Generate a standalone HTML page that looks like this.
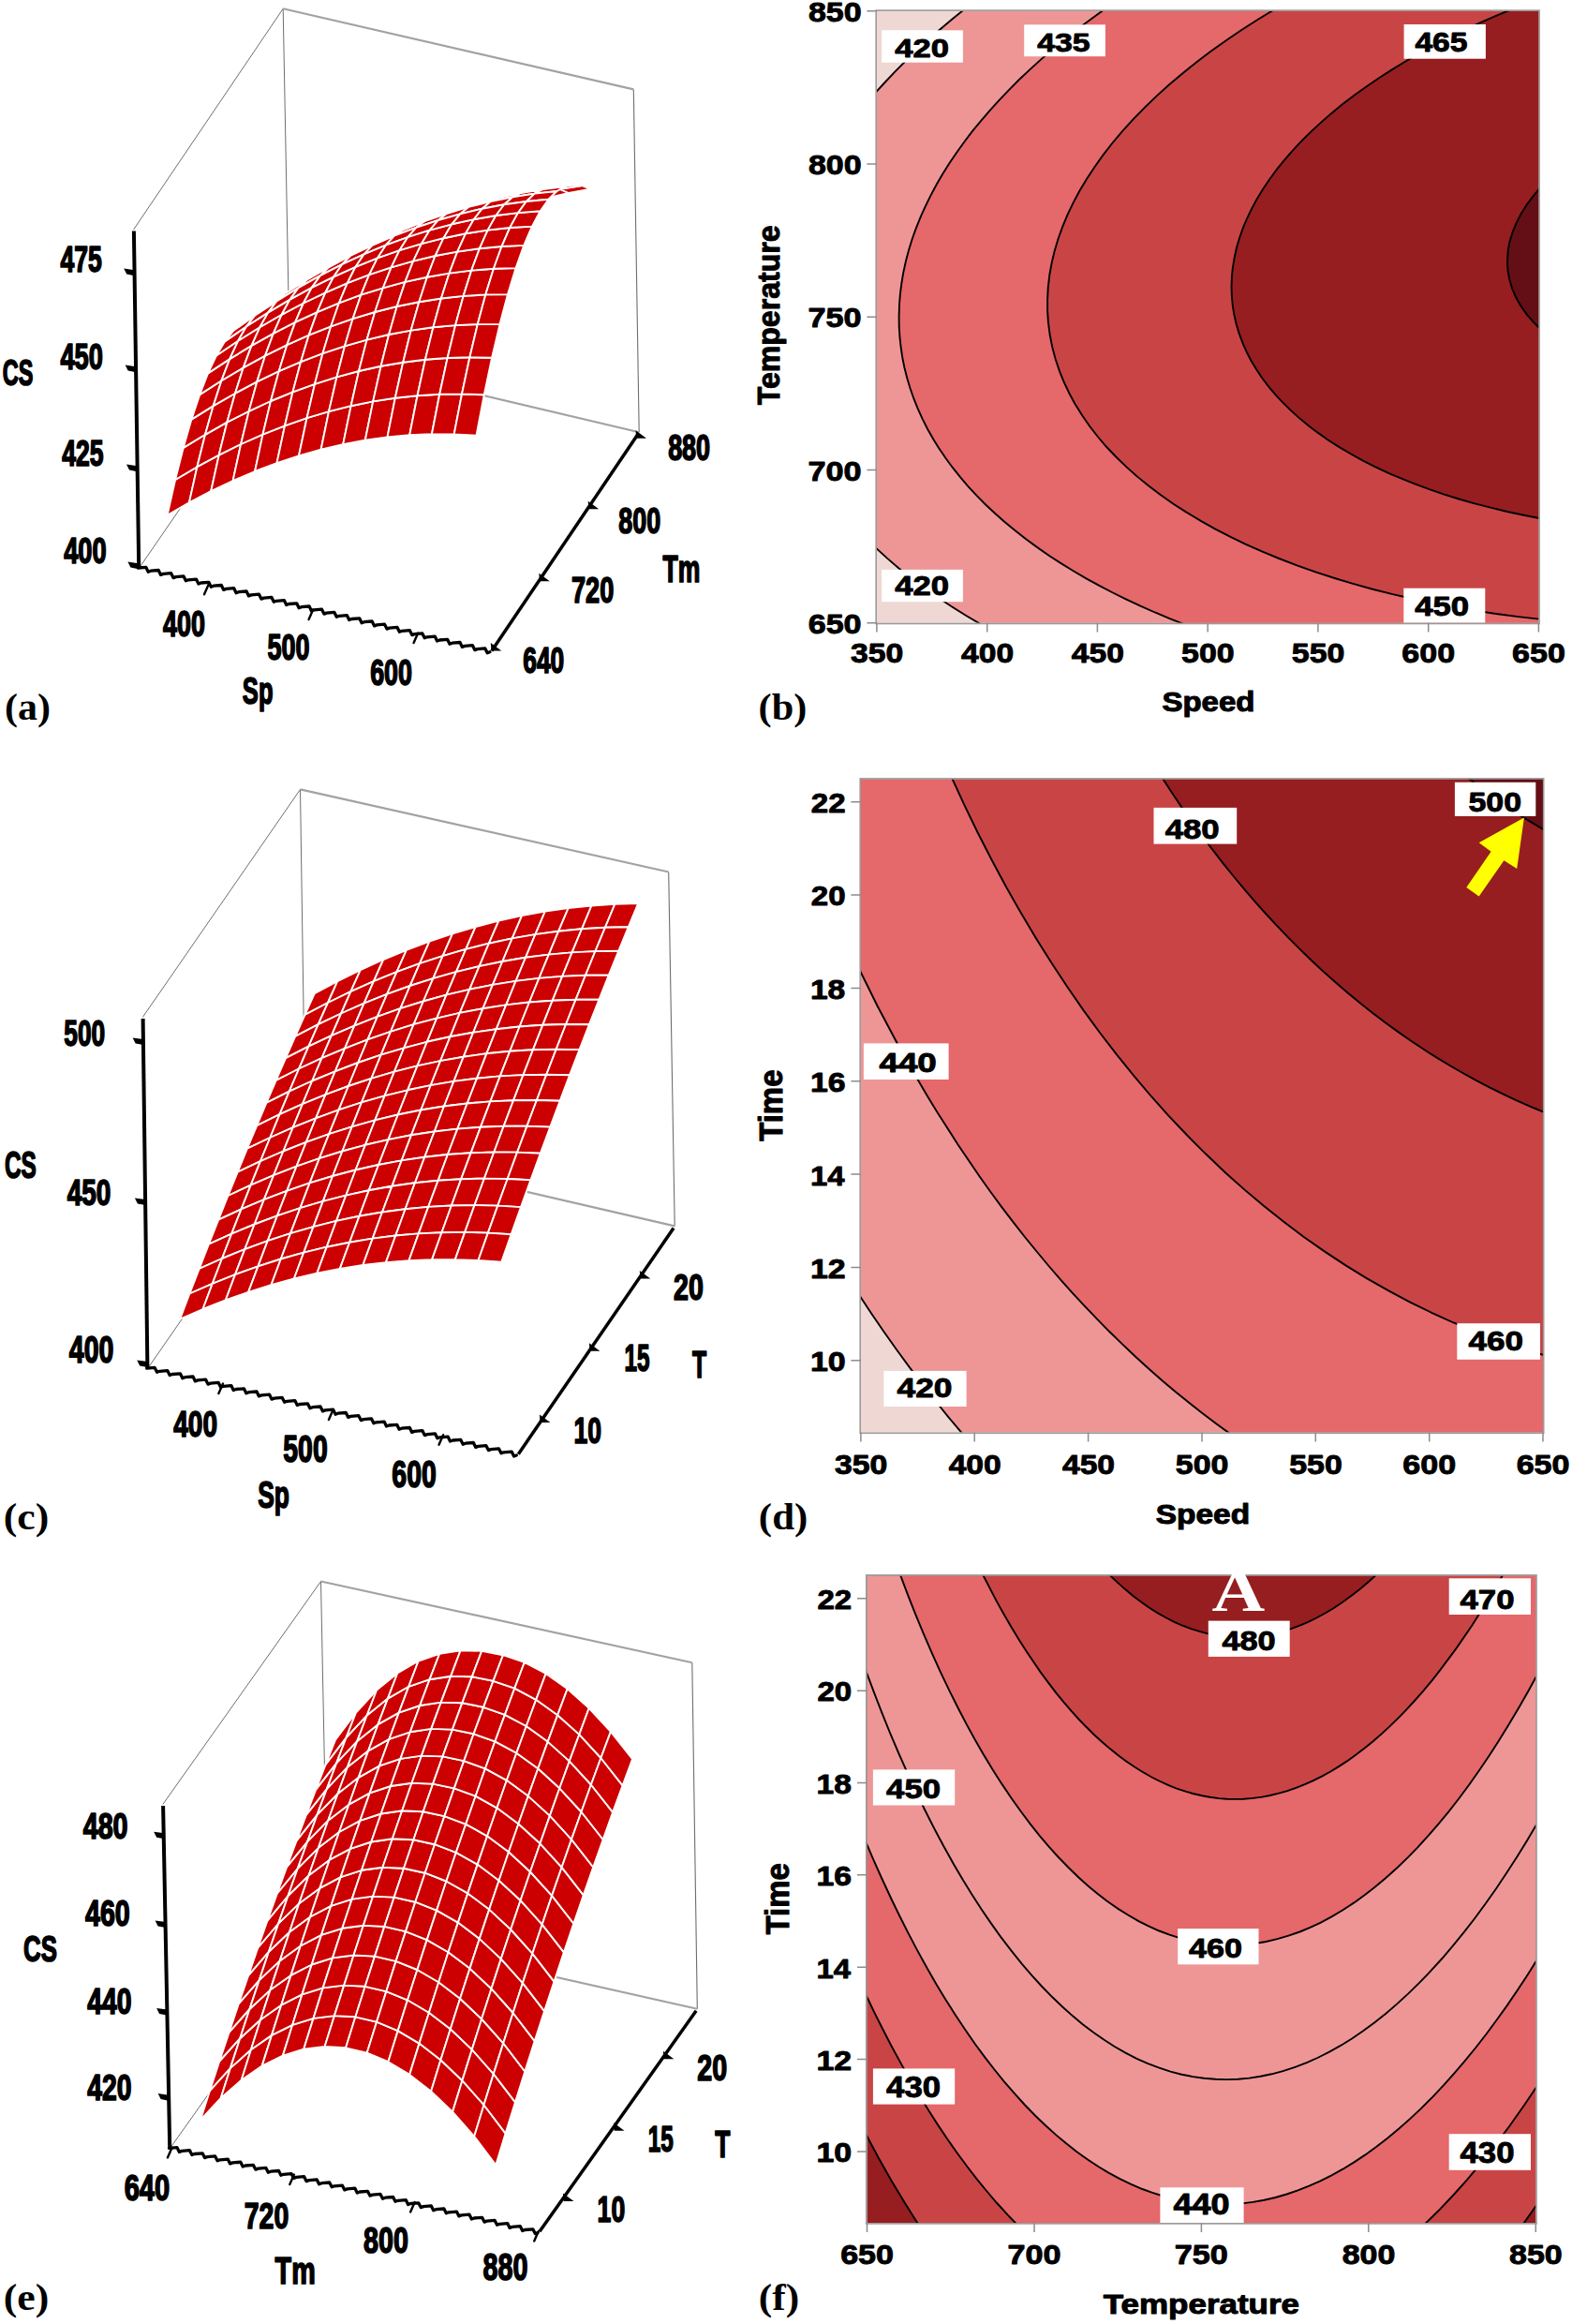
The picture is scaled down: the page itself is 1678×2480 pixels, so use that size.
<!DOCTYPE html>
<html lang="en"><head><meta charset="utf-8"><title>Response surface and contour plots</title>
<style>html,body{margin:0;padding:0;background:#fff}svg{display:block}text{white-space:pre}</style></head>
<body><svg width="1678" height="2480" viewBox="0 0 1678 2480">
<rect width="1678" height="2480" fill="#fff"/>
<g id="pa">
<line x1="149.0" y1="605.5" x2="309.0" y2="373.0" stroke="#6e6e6e" stroke-width="1.0"/>
<line x1="142.6" y1="245.0" x2="302.2" y2="9.2" stroke="#6e6e6e" stroke-width="1.0"/>
<line x1="302.2" y1="9.2" x2="309.0" y2="373.0" stroke="#6e6e6e" stroke-width="1.0"/>
<line x1="676.3" y1="95.4" x2="682.2" y2="461.2" stroke="#6e6e6e" stroke-width="1.1"/>
<line x1="302.2" y1="9.2" x2="676.3" y2="95.4" stroke="#a2a2a2" stroke-width="2.2"/>
<line x1="309.0" y1="373.0" x2="682.2" y2="461.2" stroke="#a2a2a2" stroke-width="2.2"/>
<g fill="#CC0000" stroke="#fff" stroke-width="1.9" stroke-linejoin="round">
<path d="M178.6 549.8L201.9 536.4L210.4 498.2L187.1 512.0Z"/>
<path d="M295.4 352.6L318.4 334.3L327.8 344.4L304.8 363.2Z"/>
<path d="M187.1 512.0L210.4 498.2L219.0 463.8L195.7 477.9Z"/>
<path d="M285.9 345.5L309.0 327.7L318.4 334.3L295.4 352.6Z"/>
<path d="M195.7 477.9L219.0 463.8L227.7 433.1L204.4 447.6Z"/>
<path d="M276.6 341.9L299.7 324.4L309.0 327.7L285.9 345.5Z"/>
<path d="M201.9 536.4L225.2 524.2L233.7 485.6L210.4 498.2Z"/>
<path d="M204.4 447.6L227.7 433.1L236.4 406.2L213.2 421.1Z"/>
<path d="M267.3 341.9L290.4 324.8L299.7 324.4L276.6 341.9Z"/>
<path d="M318.4 334.3L341.4 317.1L350.9 326.7L327.8 344.4Z"/>
<path d="M213.2 421.1L236.4 406.2L245.2 383.1L222.0 398.4Z"/>
<path d="M258.1 345.6L281.2 328.9L290.4 324.8L267.3 341.9Z"/>
<path d="M222.0 398.4L245.2 383.1L254.1 363.8L230.9 379.5Z"/>
<path d="M210.4 498.2L233.7 485.6L242.3 450.7L219.0 463.8Z"/>
<path d="M249.0 353.1L272.1 336.7L281.2 328.9L258.1 345.6Z"/>
<path d="M230.9 379.5L254.1 363.8L263.1 348.3L239.9 364.4Z"/>
<path d="M239.9 364.4L263.1 348.3L272.1 336.7L249.0 353.1Z"/>
<path d="M309.0 327.7L332.1 310.9L341.4 317.1L318.4 334.3Z"/>
<path d="M219.0 463.8L242.3 450.7L251.0 419.7L227.7 433.1Z"/>
<path d="M299.7 324.4L322.8 308.1L332.1 310.9L309.0 327.7Z"/>
<path d="M225.2 524.2L248.6 513.0L257.1 474.0L233.7 485.6Z"/>
<path d="M227.7 433.1L251.0 419.7L259.7 392.4L236.4 406.2Z"/>
<path d="M290.4 324.8L313.5 308.8L322.8 308.1L299.7 324.4Z"/>
<path d="M236.4 406.2L259.7 392.4L268.5 368.9L245.2 383.1Z"/>
<path d="M341.4 317.1L364.5 301.1L374.0 310.1L350.9 326.7Z"/>
<path d="M281.2 328.9L304.4 313.2L313.5 308.8L290.4 324.8Z"/>
<path d="M233.7 485.6L257.1 474.0L265.7 438.8L242.3 450.7Z"/>
<path d="M245.2 383.1L268.5 368.9L277.3 349.3L254.1 363.8Z"/>
<path d="M272.1 336.7L295.3 321.4L304.4 313.2L281.2 328.9Z"/>
<path d="M254.1 363.8L277.3 349.3L286.3 333.4L263.1 348.3Z"/>
<path d="M263.1 348.3L286.3 333.4L295.3 321.4L272.1 336.7Z"/>
<path d="M332.1 310.9L355.2 295.3L364.5 301.1L341.4 317.1Z"/>
<path d="M242.3 450.7L265.7 438.8L274.3 407.4L251.0 419.7Z"/>
<path d="M248.6 513.0L272.1 503.0L280.5 463.6L257.1 474.0Z"/>
<path d="M322.8 308.1L345.9 292.8L355.2 295.3L332.1 310.9Z"/>
<path d="M251.0 419.7L274.3 407.4L283.0 379.7L259.7 392.4Z"/>
<path d="M313.5 308.8L336.7 293.9L345.9 292.8L322.8 308.1Z"/>
<path d="M259.7 392.4L283.0 379.7L291.8 355.9L268.5 368.9Z"/>
<path d="M364.5 301.1L387.7 286.1L397.1 294.7L374.0 310.1Z"/>
<path d="M257.1 474.0L280.5 463.6L289.0 428.0L265.7 438.8Z"/>
<path d="M304.4 313.2L327.6 298.7L336.7 293.9L313.5 308.8Z"/>
<path d="M268.5 368.9L291.8 355.9L300.6 335.8L277.3 349.3Z"/>
<path d="M295.3 321.4L318.5 307.2L327.6 298.7L304.4 313.2Z"/>
<path d="M277.3 349.3L300.6 335.8L309.5 319.6L286.3 333.4Z"/>
<path d="M286.3 333.4L309.5 319.6L318.5 307.2L295.3 321.4Z"/>
<path d="M355.2 295.3L378.4 280.7L387.7 286.1L364.5 301.1Z"/>
<path d="M265.7 438.8L289.0 428.0L297.7 396.2L274.3 407.4Z"/>
<path d="M272.1 503.0L295.5 494.1L304.0 454.3L280.5 463.6Z"/>
<path d="M345.9 292.8L369.1 278.7L378.4 280.7L355.2 295.3Z"/>
<path d="M274.3 407.4L297.7 396.2L306.3 368.1L283.0 379.7Z"/>
<path d="M336.7 293.9L359.9 280.1L369.1 278.7L345.9 292.8Z"/>
<path d="M283.0 379.7L306.3 368.1L315.1 343.9L291.8 355.9Z"/>
<path d="M280.5 463.6L304.0 454.3L312.5 418.3L289.0 428.0Z"/>
<path d="M387.7 286.1L410.9 272.2L420.2 280.3L397.1 294.7Z"/>
<path d="M327.6 298.7L350.8 285.3L359.9 280.1L336.7 293.9Z"/>
<path d="M291.8 355.9L315.1 343.9L323.9 323.5L300.6 335.8Z"/>
<path d="M318.5 307.2L341.8 294.2L350.8 285.3L327.6 298.7Z"/>
<path d="M300.6 335.8L323.9 323.5L332.8 306.9L309.5 319.6Z"/>
<path d="M309.5 319.6L332.8 306.9L341.8 294.2L318.5 307.2Z"/>
<path d="M289.0 428.0L312.5 418.3L321.1 386.1L297.7 396.2Z"/>
<path d="M378.4 280.7L401.6 267.3L410.9 272.2L387.7 286.1Z"/>
<path d="M295.5 494.1L319.0 486.3L327.5 446.2L304.0 454.3Z"/>
<path d="M297.7 396.2L321.1 386.1L329.7 357.6L306.3 368.1Z"/>
<path d="M369.1 278.7L392.4 265.7L401.6 267.3L378.4 280.7Z"/>
<path d="M304.0 454.3L327.5 446.2L336.0 409.8L312.5 418.3Z"/>
<path d="M306.3 368.1L329.7 357.6L338.5 333.1L315.1 343.9Z"/>
<path d="M359.9 280.1L383.2 267.4L392.4 265.7L369.1 278.7Z"/>
<path d="M410.9 272.2L434.1 259.5L443.4 267.1L420.2 280.3Z"/>
<path d="M315.1 343.9L338.5 333.1L347.3 312.3L323.9 323.5Z"/>
<path d="M350.8 285.3L374.1 273.0L383.2 267.4L359.9 280.1Z"/>
<path d="M323.9 323.5L347.3 312.3L356.2 295.3L332.8 306.9Z"/>
<path d="M341.8 294.2L365.1 282.2L374.1 273.0L350.8 285.3Z"/>
<path d="M332.8 306.9L356.2 295.3L365.1 282.2L341.8 294.2Z"/>
<path d="M312.5 418.3L336.0 409.8L344.5 377.1L321.1 386.1Z"/>
<path d="M319.0 486.3L342.6 479.7L351.0 439.1L327.5 446.2Z"/>
<path d="M401.6 267.3L424.8 255.0L434.1 259.5L410.9 272.2Z"/>
<path d="M321.1 386.1L344.5 377.1L353.2 348.3L329.7 357.6Z"/>
<path d="M392.4 265.7L415.6 253.8L424.8 255.0L401.6 267.3Z"/>
<path d="M327.5 446.2L351.0 439.1L359.5 402.3L336.0 409.8Z"/>
<path d="M329.7 357.6L353.2 348.3L361.9 323.3L338.5 333.1Z"/>
<path d="M383.2 267.4L406.5 255.9L415.6 253.8L392.4 265.7Z"/>
<path d="M338.5 333.1L361.9 323.3L370.7 302.2L347.3 312.3Z"/>
<path d="M434.1 259.5L457.4 247.9L466.7 255.0L443.4 267.1Z"/>
<path d="M374.1 273.0L397.4 261.8L406.5 255.9L383.2 267.4Z"/>
<path d="M347.3 312.3L370.7 302.2L379.5 284.8L356.2 295.3Z"/>
<path d="M365.1 282.2L388.5 271.4L397.4 261.8L374.1 273.0Z"/>
<path d="M356.2 295.3L379.5 284.8L388.5 271.4L365.1 282.2Z"/>
<path d="M336.0 409.8L359.5 402.3L368.0 369.3L344.5 377.1Z"/>
<path d="M342.6 479.7L366.2 474.1L374.6 433.2L351.0 439.1Z"/>
<path d="M424.8 255.0L448.1 243.9L457.4 247.9L434.1 259.5Z"/>
<path d="M344.5 377.1L368.0 369.3L376.6 340.1L353.2 348.3Z"/>
<path d="M415.6 253.8L439.0 243.0L448.1 243.9L424.8 255.0Z"/>
<path d="M351.0 439.1L374.6 433.2L383.0 396.0L359.5 402.3Z"/>
<path d="M353.2 348.3L376.6 340.1L385.3 314.7L361.9 323.3Z"/>
<path d="M406.5 255.9L429.9 245.5L439.0 243.0L415.6 253.8Z"/>
<path d="M361.9 323.3L385.3 314.7L394.1 293.2L370.7 302.2Z"/>
<path d="M457.4 247.9L480.7 237.4L490.0 244.0L466.7 255.0Z"/>
<path d="M397.4 261.8L420.8 251.7L429.9 245.5L406.5 255.9Z"/>
<path d="M370.7 302.2L394.1 293.2L402.9 275.4L379.5 284.8Z"/>
<path d="M366.2 474.1L389.8 469.7L398.2 428.4L374.6 433.2Z"/>
<path d="M359.5 402.3L383.0 396.0L391.6 362.6L368.0 369.3Z"/>
<path d="M388.5 271.4L411.8 261.7L420.8 251.7L397.4 261.8Z"/>
<path d="M379.5 284.8L402.9 275.4L411.8 261.7L388.5 271.4Z"/>
<path d="M448.1 243.9L471.5 233.8L480.7 237.4L457.4 247.9Z"/>
<path d="M368.0 369.3L391.6 362.6L400.2 333.0L376.6 340.1Z"/>
<path d="M374.6 433.2L398.2 428.4L406.6 390.8L383.0 396.0Z"/>
<path d="M439.0 243.0L462.3 233.3L471.5 233.8L448.1 243.9Z"/>
<path d="M376.6 340.1L400.2 333.0L408.8 307.3L385.3 314.7Z"/>
<path d="M429.9 245.5L453.2 236.2L462.3 233.3L439.0 243.0Z"/>
<path d="M385.3 314.7L408.8 307.3L417.6 285.3L394.1 293.2Z"/>
<path d="M389.8 469.7L413.5 466.4L421.8 424.7L398.2 428.4Z"/>
<path d="M480.7 237.4L504.0 228.1L513.3 234.2L490.0 244.0Z"/>
<path d="M383.0 396.0L406.6 390.8L415.1 357.0L391.6 362.6Z"/>
<path d="M420.8 251.7L444.2 242.8L453.2 236.2L429.9 245.5Z"/>
<path d="M394.1 293.2L417.6 285.3L426.4 267.2L402.9 275.4Z"/>
<path d="M411.8 261.7L435.3 253.1L444.2 242.8L420.8 251.7Z"/>
<path d="M402.9 275.4L426.4 267.2L435.3 253.1L411.8 261.7Z"/>
<path d="M471.5 233.8L494.9 224.9L504.0 228.1L480.7 237.4Z"/>
<path d="M391.6 362.6L415.1 357.0L423.7 327.0L400.2 333.0Z"/>
<path d="M398.2 428.4L421.8 424.7L430.2 386.8L406.6 390.8Z"/>
<path d="M462.3 233.3L485.7 224.8L494.9 224.9L471.5 233.8Z"/>
<path d="M400.2 333.0L423.7 327.0L432.4 300.9L408.8 307.3Z"/>
<path d="M413.5 466.4L437.2 464.3L445.5 422.2L421.8 424.7Z"/>
<path d="M453.2 236.2L476.7 228.0L485.7 224.8L462.3 233.3Z"/>
<path d="M408.8 307.3L432.4 300.9L441.1 278.6L417.6 285.3Z"/>
<path d="M406.6 390.8L430.2 386.8L438.7 352.6L415.1 357.0Z"/>
<path d="M504.0 228.1L527.4 219.8L536.7 225.5L513.3 234.2Z"/>
<path d="M444.2 242.8L467.7 235.0L476.7 228.0L453.2 236.2Z"/>
<path d="M417.6 285.3L441.1 278.6L449.9 260.1L426.4 267.2Z"/>
<path d="M435.3 253.1L458.7 245.6L467.7 235.0L444.2 242.8Z"/>
<path d="M426.4 267.2L449.9 260.1L458.7 245.6L435.3 253.1Z"/>
<path d="M415.1 357.0L438.7 352.6L447.3 322.2L423.7 327.0Z"/>
<path d="M494.9 224.9L518.3 217.1L527.4 219.8L504.0 228.1Z"/>
<path d="M421.8 424.7L445.5 422.2L453.9 383.8L430.2 386.8Z"/>
<path d="M423.7 327.0L447.3 322.2L455.9 295.7L432.4 300.9Z"/>
<path d="M485.7 224.8L509.2 217.4L518.3 217.1L494.9 224.9Z"/>
<path d="M437.2 464.3L460.9 463.3L469.2 420.7L445.5 422.2Z"/>
<path d="M432.4 300.9L455.9 295.7L464.6 273.0L441.1 278.6Z"/>
<path d="M430.2 386.8L453.9 383.8L462.4 349.3L438.7 352.6Z"/>
<path d="M476.7 228.0L500.1 220.9L509.2 217.4L485.7 224.8Z"/>
<path d="M441.1 278.6L464.6 273.0L473.4 254.2L449.9 260.1Z"/>
<path d="M527.4 219.8L550.9 212.7L560.1 217.8L536.7 225.5Z"/>
<path d="M467.7 235.0L491.2 228.3L500.1 220.9L476.7 228.0Z"/>
<path d="M449.9 260.1L473.4 254.2L482.2 239.3L458.7 245.6Z"/>
<path d="M458.7 245.6L482.2 239.3L491.2 228.3L467.7 235.0Z"/>
<path d="M438.7 352.6L462.4 349.3L470.9 318.5L447.3 322.2Z"/>
<path d="M445.5 422.2L469.2 420.7L477.6 382.0L453.9 383.8Z"/>
<path d="M518.3 217.1L541.7 210.4L550.9 212.7L527.4 219.8Z"/>
<path d="M447.3 322.2L470.9 318.5L479.5 291.6L455.9 295.7Z"/>
<path d="M460.9 463.3L484.7 463.4L493.0 420.5L469.2 420.7Z"/>
<path d="M509.2 217.4L532.6 211.1L541.7 210.4L518.3 217.1Z"/>
<path d="M453.9 383.8L477.6 382.0L486.1 347.1L462.4 349.3Z"/>
<path d="M455.9 295.7L479.5 291.6L488.2 268.6L464.6 273.0Z"/>
<path d="M500.1 220.9L523.6 215.0L532.6 211.1L509.2 217.4Z"/>
<path d="M464.6 273.0L488.2 268.6L497.0 249.3L473.4 254.2Z"/>
<path d="M550.9 212.7L574.3 206.7L583.5 211.4L560.1 217.8Z"/>
<path d="M491.2 228.3L514.7 222.7L523.6 215.0L500.1 220.9Z"/>
<path d="M473.4 254.2L497.0 249.3L505.8 234.1L482.2 239.3Z"/>
<path d="M482.2 239.3L505.8 234.1L514.7 222.7L491.2 228.3Z"/>
<path d="M462.4 349.3L486.1 347.1L494.6 315.9L470.9 318.5Z"/>
<path d="M469.2 420.7L493.0 420.5L501.4 381.3L477.6 382.0Z"/>
<path d="M541.7 210.4L565.2 204.9L574.3 206.7L550.9 212.7Z"/>
<path d="M484.7 463.4L508.5 464.6L516.8 421.3L493.0 420.5Z"/>
<path d="M470.9 318.5L494.6 315.9L503.2 288.6L479.5 291.6Z"/>
<path d="M532.6 211.1L556.2 206.0L565.2 204.9L541.7 210.4Z"/>
<path d="M477.6 382.0L501.4 381.3L509.8 346.0L486.1 347.1Z"/>
<path d="M479.5 291.6L503.2 288.6L511.9 265.2L488.2 268.6Z"/>
<path d="M523.6 215.0L547.2 210.2L556.2 206.0L532.6 211.1Z"/>
<path d="M488.2 268.6L511.9 265.2L520.6 245.6L497.0 249.3Z"/>
<path d="M514.7 222.7L538.2 218.3L547.2 210.2L523.6 215.0Z"/>
<path d="M574.3 206.7L597.8 201.9L607.0 206.0L583.5 211.4Z"/>
<path d="M497.0 249.3L520.6 245.6L529.4 230.0L505.8 234.1Z"/>
<path d="M493.0 420.5L516.8 421.3L525.1 381.8L501.4 381.3Z"/>
<path d="M505.8 234.1L529.4 230.0L538.2 218.3L514.7 222.7Z"/>
<path d="M486.1 347.1L509.8 346.0L518.3 314.4L494.6 315.9Z"/>
<path d="M565.2 204.9L588.7 200.4L597.8 201.9L574.3 206.7Z"/>
<path d="M494.6 315.9L518.3 314.4L526.9 286.8L503.2 288.6Z"/>
<path d="M501.4 381.3L525.1 381.8L533.5 346.1L509.8 346.0Z"/>
<path d="M556.2 206.0L579.7 202.0L588.7 200.4L565.2 204.9Z"/>
<path d="M503.2 288.6L526.9 286.8L535.5 263.0L511.9 265.2Z"/>
<path d="M547.2 210.2L570.7 206.6L579.7 202.0L556.2 206.0Z"/>
<path d="M511.9 265.2L535.5 263.0L544.2 243.0L520.6 245.6Z"/>
<path d="M538.2 218.3L561.8 215.0L570.7 206.6L547.2 210.2Z"/>
<path d="M597.8 201.9L621.4 198.1L630.5 201.8L607.0 206.0Z"/>
<path d="M509.8 346.0L533.5 346.1L542.0 314.1L518.3 314.4Z"/>
<path d="M520.6 245.6L544.2 243.0L553.0 227.1L529.4 230.0Z"/>
<path d="M529.4 230.0L553.0 227.1L561.8 215.0L538.2 218.3Z"/>
<path d="M588.7 200.4L612.3 197.2L621.4 198.1L597.8 201.9Z"/>
<path d="M518.3 314.4L542.0 314.1L550.6 286.1L526.9 286.8Z"/>
<path d="M579.7 202.0L603.3 199.1L612.3 197.2L588.7 200.4Z"/>
<path d="M526.9 286.8L550.6 286.1L559.2 261.9L535.5 263.0Z"/>
<path d="M570.7 206.6L594.4 204.0L603.3 199.1L579.7 202.0Z"/>
<path d="M535.5 263.0L559.2 261.9L567.9 241.6L544.2 243.0Z"/>
<path d="M561.8 215.0L585.5 212.8L594.4 204.0L570.7 206.6Z"/>
<path d="M544.2 243.0L567.9 241.6L576.7 225.3L553.0 227.1Z"/>
<path d="M553.0 227.1L576.7 225.3L585.5 212.8L561.8 215.0Z"/>
</g>
<line x1="142.9" y1="246.5" x2="148.2" y2="605.5" stroke="#000" stroke-width="4.0"/>
<path d="M147.5 606.0L155.8 605.3L158.2 610.2L160.9 609.2L169.2 608.5L171.6 613.4L174.3 612.4L182.6 611.7L185.0 616.6L187.7 615.6L196.0 614.9L198.4 619.8L201.1 618.8L209.4 618.1L211.9 623.0L214.5 622.0L222.8 621.3L225.3 626.2L227.9 625.2L236.3 624.5L238.7 629.4L241.3 628.4L249.7 627.7L252.1 632.7L254.8 631.7L263.1 631.0L265.5 635.9L268.2 634.9L276.5 634.2L278.9 639.1L281.6 638.1L289.9 637.4L292.3 642.3L295.0 641.3L303.3 640.6L305.7 645.5L308.4 644.5L316.7 643.8L319.1 648.7L321.8 647.7L330.1 647.0L332.5 651.9L335.2 650.9L343.5 650.2L345.9 655.1L348.6 654.1L356.9 653.4L359.3 658.3L362.0 657.3L370.3 656.6L372.7 661.5L375.4 660.5L383.7 659.8L386.1 664.7L388.8 663.7L397.1 663.0L399.6 667.9L402.2 666.9L410.5 666.2L413.0 671.1L415.6 670.1L424.0 669.4L426.4 674.3L429.0 673.3L437.4 672.6L439.8 677.6L442.5 676.6L450.8 675.9L453.2 680.8L455.9 679.8L464.2 679.1L466.6 684.0L469.3 683.0L477.6 682.3L480.0 687.2L482.7 686.2L491.0 685.5L493.4 690.4L496.1 689.4L504.4 688.7L506.8 693.6L509.5 692.6L517.8 691.9L520.2 696.8L522.9 695.8" fill="none" stroke="#000" stroke-width="3.3" stroke-linejoin="round" stroke-linecap="round"/>
<line x1="524.9" y1="694.5" x2="681.0" y2="463.2" stroke="#000" stroke-width="3.5"/>
<path d="M147.8 601.2L136.4 599.6L139.4 605.6L147.8 607.2Z" fill="#000"/>
<path d="M146.4 497.2L135.0 495.6L138.0 501.6L146.4 503.2Z" fill="#000"/>
<path d="M145.0 391.2L133.6 389.6L136.6 395.6L145.0 397.2Z" fill="#000"/>
<path d="M143.6 288.2L132.2 286.6L135.2 292.6L143.6 294.2Z" fill="#000"/>
<path d="M222.6 623.8L218.0 634.3" fill="none" stroke="#000" stroke-width="2.4" stroke-linecap="round"/>
<path d="M334.2 650.6L329.6 661.1" fill="none" stroke="#000" stroke-width="2.4" stroke-linecap="round"/>
<path d="M446.2 675.6L441.6 686.1" fill="none" stroke="#000" stroke-width="2.4" stroke-linecap="round"/>
<path d="M523.8 686.0L524.5 694.5L535.3 694.5Z" fill="#000"/>
<path d="M575.3 611.8L576.0 620.3L586.8 620.3Z" fill="#000"/>
<path d="M627.7 534.7L628.4 543.2L639.2 543.2Z" fill="#000"/>
<path d="M678.5 459.3L679.2 467.8L690.0 467.8Z" fill="#000"/>
<text transform="translate(64.38,290.31) scale(0.6857,1)" font-family='"Liberation Sans", sans-serif' font-weight="bold" font-size="38.71" fill="#000" stroke="#000" stroke-width="1.70" stroke-linejoin="round">475</text>
<text transform="translate(64.38,394.31) scale(0.6923,1)" font-family='"Liberation Sans", sans-serif' font-weight="bold" font-size="39.43" fill="#000" stroke="#000" stroke-width="1.70" stroke-linejoin="round">450</text>
<text transform="translate(66.29,497.42) scale(0.6953,1)" font-family='"Liberation Sans", sans-serif' font-weight="bold" font-size="38.16" fill="#000" stroke="#000" stroke-width="1.70" stroke-linejoin="round">425</text>
<text transform="translate(68.18,601.40) scale(0.6899,1)" font-family='"Liberation Sans", sans-serif' font-weight="bold" font-size="39.58" fill="#000" stroke="#000" stroke-width="1.70" stroke-linejoin="round">400</text>
<text transform="translate(2.76,410.60) scale(0.5939,1)" font-family='"Liberation Sans", sans-serif' font-weight="bold" font-size="39.58" fill="#000" stroke="#000" stroke-width="1.70" stroke-linejoin="round">CS</text>
<text transform="translate(173.97,678.50) scale(0.6807,1)" font-family='"Liberation Sans", sans-serif' font-weight="bold" font-size="39.58" fill="#000" stroke="#000" stroke-width="1.70" stroke-linejoin="round">400</text>
<text transform="translate(285.57,704.30) scale(0.6824,1)" font-family='"Liberation Sans", sans-serif' font-weight="bold" font-size="39.58" fill="#000" stroke="#000" stroke-width="1.70" stroke-linejoin="round">500</text>
<text transform="translate(395.17,730.60) scale(0.6793,1)" font-family='"Liberation Sans", sans-serif' font-weight="bold" font-size="39.58" fill="#000" stroke="#000" stroke-width="1.70" stroke-linejoin="round">600</text>
<text transform="translate(258.87,750.71) scale(0.6313,1)" font-family='"Liberation Sans", sans-serif' font-weight="bold" font-size="40.44" fill="#000" stroke="#000" stroke-width="1.70" stroke-linejoin="round">Sp</text>
<text transform="translate(713.13,490.52) scale(0.7115,1)" font-family='"Liberation Sans", sans-serif' font-weight="bold" font-size="37.88" fill="#000" stroke="#000" stroke-width="1.70" stroke-linejoin="round">880</text>
<text transform="translate(660.21,568.91) scale(0.6827,1)" font-family='"Liberation Sans", sans-serif' font-weight="bold" font-size="39.43" fill="#000" stroke="#000" stroke-width="1.70" stroke-linejoin="round">800</text>
<text transform="translate(610.03,643.21) scale(0.6884,1)" font-family='"Liberation Sans", sans-serif' font-weight="bold" font-size="39.43" fill="#000" stroke="#000" stroke-width="1.70" stroke-linejoin="round">720</text>
<text transform="translate(558.28,717.51) scale(0.6692,1)" font-family='"Liberation Sans", sans-serif' font-weight="bold" font-size="39.43" fill="#000" stroke="#000" stroke-width="1.70" stroke-linejoin="round">640</text>
<text transform="translate(707.59,621.20) scale(0.6557,1)" font-family='"Liberation Sans", sans-serif' font-weight="bold" font-size="40.58" fill="#000" stroke="#000" stroke-width="1.70" stroke-linejoin="round">Tm</text>
</g>
<g id="pc">
<line x1="158.2" y1="1459.6" x2="326.1" y2="1217.1" stroke="#6e6e6e" stroke-width="1.0"/>
<line x1="152.3" y1="1085.5" x2="320.5" y2="842.4" stroke="#6e6e6e" stroke-width="1.0"/>
<line x1="320.5" y1="842.4" x2="326.1" y2="1217.1" stroke="#6e6e6e" stroke-width="1.0"/>
<line x1="713.7" y1="930.5" x2="720.2" y2="1308.4" stroke="#6e6e6e" stroke-width="1.1"/>
<line x1="320.5" y1="842.4" x2="713.7" y2="930.5" stroke="#a2a2a2" stroke-width="2.2"/>
<line x1="326.1" y1="1217.1" x2="720.2" y2="1308.4" stroke="#a2a2a2" stroke-width="2.2"/>
<g fill="#CC0000" stroke="#fff" stroke-width="1.9" stroke-linejoin="round">
<path d="M325.5 1082.8L350.0 1070.0L360.2 1047.2L335.8 1060.2Z"/>
<path d="M315.2 1105.8L339.7 1093.2L350.0 1070.0L325.5 1082.8Z"/>
<path d="M305.0 1129.1L329.4 1116.7L339.7 1093.2L315.2 1105.8Z"/>
<path d="M294.7 1152.8L319.1 1140.5L329.4 1116.7L305.0 1129.1Z"/>
<path d="M284.4 1176.8L308.8 1164.7L319.1 1140.5L294.7 1152.8Z"/>
<path d="M274.2 1201.1L298.5 1189.1L308.8 1164.7L284.4 1176.8Z"/>
<path d="M350.0 1070.0L374.4 1058.2L384.7 1035.1L360.2 1047.2Z"/>
<path d="M263.9 1225.7L288.3 1214.0L298.5 1189.1L274.2 1201.1Z"/>
<path d="M339.7 1093.2L364.1 1081.5L374.4 1058.2L350.0 1070.0Z"/>
<path d="M253.7 1250.7L278.0 1239.1L288.3 1214.0L263.9 1225.7Z"/>
<path d="M329.4 1116.7L353.8 1105.2L364.1 1081.5L339.7 1093.2Z"/>
<path d="M243.4 1276.0L267.7 1264.6L278.0 1239.1L253.7 1250.7Z"/>
<path d="M319.1 1140.5L343.5 1129.2L353.8 1105.2L329.4 1116.7Z"/>
<path d="M233.2 1301.6L257.5 1290.4L267.7 1264.6L243.4 1276.0Z"/>
<path d="M308.8 1164.7L333.2 1153.5L343.5 1129.2L319.1 1140.5Z"/>
<path d="M298.5 1189.1L322.9 1178.2L333.2 1153.5L308.8 1164.7Z"/>
<path d="M222.9 1327.6L247.2 1316.6L257.5 1290.4L233.2 1301.6Z"/>
<path d="M374.4 1058.2L398.9 1047.2L409.2 1024.0L384.7 1035.1Z"/>
<path d="M288.3 1214.0L312.7 1203.2L322.9 1178.2L298.5 1189.1Z"/>
<path d="M212.7 1353.9L237.0 1343.0L247.2 1316.6L222.9 1327.6Z"/>
<path d="M364.1 1081.5L388.6 1070.7L398.9 1047.2L374.4 1058.2Z"/>
<path d="M278.0 1239.1L302.4 1228.5L312.7 1203.2L288.3 1214.0Z"/>
<path d="M353.8 1105.2L378.3 1094.6L388.6 1070.7L364.1 1081.5Z"/>
<path d="M202.4 1380.5L226.7 1369.9L237.0 1343.0L212.7 1353.9Z"/>
<path d="M267.7 1264.6L292.1 1254.1L302.4 1228.5L278.0 1239.1Z"/>
<path d="M343.5 1129.2L368.0 1118.8L378.3 1094.6L353.8 1105.2Z"/>
<path d="M192.2 1407.5L216.5 1397.0L226.7 1369.9L202.4 1380.5Z"/>
<path d="M257.5 1290.4L281.8 1280.1L292.1 1254.1L267.7 1264.6Z"/>
<path d="M333.2 1153.5L357.7 1143.3L368.0 1118.8L343.5 1129.2Z"/>
<path d="M322.9 1178.2L347.4 1168.1L357.7 1143.3L333.2 1153.5Z"/>
<path d="M247.2 1316.6L271.6 1306.5L281.8 1280.1L257.5 1290.4Z"/>
<path d="M398.9 1047.2L423.5 1037.2L433.8 1013.9L409.2 1024.0Z"/>
<path d="M312.7 1203.2L337.1 1193.3L347.4 1168.1L322.9 1178.2Z"/>
<path d="M237.0 1343.0L261.3 1333.1L271.6 1306.5L247.2 1316.6Z"/>
<path d="M388.6 1070.7L413.1 1060.9L423.5 1037.2L398.9 1047.2Z"/>
<path d="M302.4 1228.5L326.8 1218.8L337.1 1193.3L312.7 1203.2Z"/>
<path d="M378.3 1094.6L402.8 1084.9L413.1 1060.9L388.6 1070.7Z"/>
<path d="M226.7 1369.9L251.0 1360.1L261.3 1333.1L237.0 1343.0Z"/>
<path d="M292.1 1254.1L316.5 1244.6L326.8 1218.8L302.4 1228.5Z"/>
<path d="M368.0 1118.8L392.5 1109.3L402.8 1084.9L378.3 1094.6Z"/>
<path d="M216.5 1397.0L240.8 1387.5L251.0 1360.1L226.7 1369.9Z"/>
<path d="M281.8 1280.1L306.2 1270.8L316.5 1244.6L292.1 1254.1Z"/>
<path d="M357.7 1143.3L382.2 1134.0L392.5 1109.3L368.0 1118.8Z"/>
<path d="M347.4 1168.1L371.9 1159.0L382.2 1134.0L357.7 1143.3Z"/>
<path d="M271.6 1306.5L295.9 1297.3L306.2 1270.8L281.8 1280.1Z"/>
<path d="M423.5 1037.2L448.0 1028.2L458.4 1004.6L433.8 1013.9Z"/>
<path d="M337.1 1193.3L361.6 1184.4L371.9 1159.0L347.4 1168.1Z"/>
<path d="M261.3 1333.1L285.7 1324.2L295.9 1297.3L271.6 1306.5Z"/>
<path d="M413.1 1060.9L437.7 1052.0L448.0 1028.2L423.5 1037.2Z"/>
<path d="M326.8 1218.8L351.2 1210.1L361.6 1184.4L337.1 1193.3Z"/>
<path d="M402.8 1084.9L427.4 1076.2L437.7 1052.0L413.1 1060.9Z"/>
<path d="M251.0 1360.1L275.4 1351.3L285.7 1324.2L261.3 1333.1Z"/>
<path d="M316.5 1244.6L340.9 1236.1L351.2 1210.1L326.8 1218.8Z"/>
<path d="M392.5 1109.3L417.0 1100.8L427.4 1076.2L402.8 1084.9Z"/>
<path d="M240.8 1387.5L265.1 1378.9L275.4 1351.3L251.0 1360.1Z"/>
<path d="M306.2 1270.8L330.6 1262.4L340.9 1236.1L316.5 1244.6Z"/>
<path d="M382.2 1134.0L406.7 1125.6L417.0 1100.8L392.5 1109.3Z"/>
<path d="M371.9 1159.0L396.4 1150.9L406.7 1125.6L382.2 1134.0Z"/>
<path d="M295.9 1297.3L320.4 1289.1L330.6 1262.4L306.2 1270.8Z"/>
<path d="M448.0 1028.2L472.6 1020.1L483.0 996.3L458.4 1004.6Z"/>
<path d="M361.6 1184.4L386.0 1176.4L396.4 1150.9L371.9 1159.0Z"/>
<path d="M285.7 1324.2L310.1 1316.1L320.4 1289.1L295.9 1297.3Z"/>
<path d="M437.7 1052.0L462.3 1044.1L472.6 1020.1L448.0 1028.2Z"/>
<path d="M351.2 1210.1L375.7 1202.3L386.0 1176.4L361.6 1184.4Z"/>
<path d="M427.4 1076.2L451.9 1068.5L462.3 1044.1L437.7 1052.0Z"/>
<path d="M275.4 1351.3L299.8 1343.5L310.1 1316.1L285.7 1324.2Z"/>
<path d="M340.9 1236.1L365.4 1228.5L375.7 1202.3L351.2 1210.1Z"/>
<path d="M417.0 1100.8L441.6 1093.2L451.9 1068.5L427.4 1076.2Z"/>
<path d="M265.1 1378.9L289.5 1371.2L299.8 1343.5L275.4 1351.3Z"/>
<path d="M330.6 1262.4L355.1 1255.0L365.4 1228.5L340.9 1236.1Z"/>
<path d="M406.7 1125.6L431.2 1118.3L441.6 1093.2L417.0 1100.8Z"/>
<path d="M396.4 1150.9L420.9 1143.6L431.2 1118.3L406.7 1125.6Z"/>
<path d="M320.4 1289.1L344.8 1281.9L355.1 1255.0L330.6 1262.4Z"/>
<path d="M472.6 1020.1L497.3 1012.9L507.6 989.0L483.0 996.3Z"/>
<path d="M386.0 1176.4L410.6 1169.4L420.9 1143.6L396.4 1150.9Z"/>
<path d="M310.1 1316.1L334.5 1309.1L344.8 1281.9L320.4 1289.1Z"/>
<path d="M462.3 1044.1L486.9 1037.1L497.3 1012.9L472.6 1020.1Z"/>
<path d="M375.7 1202.3L400.3 1195.4L410.6 1169.4L386.0 1176.4Z"/>
<path d="M451.9 1068.5L476.5 1061.7L486.9 1037.1L462.3 1044.1Z"/>
<path d="M299.8 1343.5L324.2 1336.6L334.5 1309.1L310.1 1316.1Z"/>
<path d="M365.4 1228.5L389.9 1221.8L400.3 1195.4L375.7 1202.3Z"/>
<path d="M441.6 1093.2L466.2 1086.6L476.5 1061.7L451.9 1068.5Z"/>
<path d="M289.5 1371.2L313.9 1364.5L324.2 1336.6L299.8 1343.5Z"/>
<path d="M355.1 1255.0L379.6 1248.5L389.9 1221.8L365.4 1228.5Z"/>
<path d="M431.2 1118.3L455.8 1111.8L466.2 1086.6L441.6 1093.2Z"/>
<path d="M420.9 1143.6L445.5 1137.4L455.8 1111.8L431.2 1118.3Z"/>
<path d="M344.8 1281.9L369.3 1275.6L379.6 1248.5L355.1 1255.0Z"/>
<path d="M497.3 1012.9L521.9 1006.7L532.3 982.6L507.6 989.0Z"/>
<path d="M410.6 1169.4L435.1 1163.3L445.5 1137.4L420.9 1143.6Z"/>
<path d="M334.5 1309.1L359.0 1302.9L369.3 1275.6L344.8 1281.9Z"/>
<path d="M486.9 1037.1L511.6 1031.1L521.9 1006.7L497.3 1012.9Z"/>
<path d="M400.3 1195.4L424.8 1189.5L435.1 1163.3L410.6 1169.4Z"/>
<path d="M476.5 1061.7L501.2 1055.8L511.6 1031.1L486.9 1037.1Z"/>
<path d="M324.2 1336.6L348.7 1330.7L359.0 1302.9L334.5 1309.1Z"/>
<path d="M389.9 1221.8L414.5 1216.1L424.8 1189.5L400.3 1195.4Z"/>
<path d="M466.2 1086.6L490.8 1080.9L501.2 1055.8L476.5 1061.7Z"/>
<path d="M313.9 1364.5L338.4 1358.7L348.7 1330.7L324.2 1336.6Z"/>
<path d="M379.6 1248.5L404.1 1243.0L414.5 1216.1L389.9 1221.8Z"/>
<path d="M455.8 1111.8L480.5 1106.3L490.8 1080.9L466.2 1086.6Z"/>
<path d="M445.5 1137.4L470.1 1132.1L480.5 1106.3L455.8 1111.8Z"/>
<path d="M369.3 1275.6L393.8 1270.2L404.1 1243.0L379.6 1248.5Z"/>
<path d="M521.9 1006.7L546.7 1001.4L557.1 977.1L532.3 982.6Z"/>
<path d="M435.1 1163.3L459.7 1158.1L470.1 1132.1L445.5 1137.4Z"/>
<path d="M359.0 1302.9L383.5 1297.8L393.8 1270.2L369.3 1275.6Z"/>
<path d="M511.6 1031.1L536.3 1026.0L546.7 1001.4L521.9 1006.7Z"/>
<path d="M424.8 1189.5L449.4 1184.5L459.7 1158.1L435.1 1163.3Z"/>
<path d="M501.2 1055.8L525.9 1050.9L536.3 1026.0L511.6 1031.1Z"/>
<path d="M348.7 1330.7L373.2 1325.7L383.5 1297.8L359.0 1302.9Z"/>
<path d="M414.5 1216.1L439.0 1211.3L449.4 1184.5L424.8 1189.5Z"/>
<path d="M490.8 1080.9L515.5 1076.2L525.9 1050.9L501.2 1055.8Z"/>
<path d="M338.4 1358.7L362.8 1353.9L373.2 1325.7L348.7 1330.7Z"/>
<path d="M404.1 1243.0L428.7 1238.4L439.0 1211.3L414.5 1216.1Z"/>
<path d="M480.5 1106.3L505.1 1101.8L515.5 1076.2L490.8 1080.9Z"/>
<path d="M470.1 1132.1L494.8 1127.7L505.1 1101.8L480.5 1106.3Z"/>
<path d="M393.8 1270.2L418.4 1265.8L428.7 1238.4L404.1 1243.0Z"/>
<path d="M546.7 1001.4L571.4 997.1L581.8 972.6L557.1 977.1Z"/>
<path d="M459.7 1158.1L484.4 1153.9L494.8 1127.7L470.1 1132.1Z"/>
<path d="M383.5 1297.8L408.0 1293.5L418.4 1265.8L393.8 1270.2Z"/>
<path d="M536.3 1026.0L561.0 1021.8L571.4 997.1L546.7 1001.4Z"/>
<path d="M449.4 1184.5L474.0 1180.5L484.4 1153.9L459.7 1158.1Z"/>
<path d="M525.9 1050.9L550.6 1046.9L561.0 1021.8L536.3 1026.0Z"/>
<path d="M373.2 1325.7L397.7 1321.6L408.0 1293.5L383.5 1297.8Z"/>
<path d="M439.0 1211.3L463.7 1207.5L474.0 1180.5L449.4 1184.5Z"/>
<path d="M515.5 1076.2L540.2 1072.4L550.6 1046.9L525.9 1050.9Z"/>
<path d="M362.8 1353.9L387.4 1350.0L397.7 1321.6L373.2 1325.7Z"/>
<path d="M428.7 1238.4L453.3 1234.7L463.7 1207.5L439.0 1211.3Z"/>
<path d="M505.1 1101.8L529.8 1098.2L540.2 1072.4L515.5 1076.2Z"/>
<path d="M494.8 1127.7L519.4 1124.3L529.8 1098.2L505.1 1101.8Z"/>
<path d="M418.4 1265.8L442.9 1262.3L453.3 1234.7L428.7 1238.4Z"/>
<path d="M571.4 997.1L596.2 993.7L606.6 969.1L581.8 972.6Z"/>
<path d="M484.4 1153.9L509.1 1150.7L519.4 1124.3L494.8 1127.7Z"/>
<path d="M408.0 1293.5L432.6 1290.2L442.9 1262.3L418.4 1265.8Z"/>
<path d="M561.0 1021.8L585.8 1018.6L596.2 993.7L571.4 997.1Z"/>
<path d="M474.0 1180.5L498.7 1177.5L509.1 1150.7L484.4 1153.9Z"/>
<path d="M550.6 1046.9L575.4 1043.9L585.8 1018.6L561.0 1021.8Z"/>
<path d="M397.7 1321.6L422.3 1318.5L432.6 1290.2L408.0 1293.5Z"/>
<path d="M463.7 1207.5L488.3 1204.6L498.7 1177.5L474.0 1180.5Z"/>
<path d="M540.2 1072.4L565.0 1069.5L575.4 1043.9L550.6 1046.9Z"/>
<path d="M387.4 1350.0L411.9 1347.1L422.3 1318.5L397.7 1321.6Z"/>
<path d="M453.3 1234.7L477.9 1232.0L488.3 1204.6L463.7 1207.5Z"/>
<path d="M529.8 1098.2L554.6 1095.5L565.0 1069.5L540.2 1072.4Z"/>
<path d="M519.4 1124.3L544.2 1121.8L554.6 1095.5L529.8 1098.2Z"/>
<path d="M442.9 1262.3L467.6 1259.8L477.9 1232.0L453.3 1234.7Z"/>
<path d="M596.2 993.7L621.0 991.3L631.4 966.5L606.6 969.1Z"/>
<path d="M509.1 1150.7L533.8 1148.4L544.2 1121.8L519.4 1124.3Z"/>
<path d="M432.6 1290.2L457.2 1287.9L467.6 1259.8L442.9 1262.3Z"/>
<path d="M585.8 1018.6L610.6 1016.4L621.0 991.3L596.2 993.7Z"/>
<path d="M498.7 1177.5L523.4 1175.4L533.8 1148.4L509.1 1150.7Z"/>
<path d="M575.4 1043.9L600.2 1041.9L610.6 1016.4L585.8 1018.6Z"/>
<path d="M422.3 1318.5L446.8 1316.4L457.2 1287.9L432.6 1290.2Z"/>
<path d="M488.3 1204.6L513.0 1202.7L523.4 1175.4L498.7 1177.5Z"/>
<path d="M565.0 1069.5L589.7 1067.7L600.2 1041.9L575.4 1043.9Z"/>
<path d="M411.9 1347.1L436.5 1345.1L446.8 1316.4L422.3 1318.5Z"/>
<path d="M477.9 1232.0L502.6 1230.3L513.0 1202.7L488.3 1204.6Z"/>
<path d="M554.6 1095.5L579.3 1093.8L589.7 1067.7L565.0 1069.5Z"/>
<path d="M544.2 1121.8L568.9 1120.3L579.3 1093.8L554.6 1095.5Z"/>
<path d="M467.6 1259.8L492.2 1258.2L502.6 1230.3L477.9 1232.0Z"/>
<path d="M621.0 991.3L645.9 989.8L656.3 964.8L631.4 966.5Z"/>
<path d="M533.8 1148.4L558.5 1147.1L568.9 1120.3L544.2 1121.8Z"/>
<path d="M457.2 1287.9L481.9 1286.5L492.2 1258.2L467.6 1259.8Z"/>
<path d="M610.6 1016.4L635.4 1015.1L645.9 989.8L621.0 991.3Z"/>
<path d="M523.4 1175.4L548.1 1174.2L558.5 1147.1L533.8 1148.4Z"/>
<path d="M600.2 1041.9L625.0 1040.7L635.4 1015.1L610.6 1016.4Z"/>
<path d="M446.8 1316.4L471.5 1315.2L481.9 1286.5L457.2 1287.9Z"/>
<path d="M513.0 1202.7L537.7 1201.7L548.1 1174.2L523.4 1175.4Z"/>
<path d="M589.7 1067.7L614.6 1066.7L625.0 1040.7L600.2 1041.9Z"/>
<path d="M436.5 1345.1L461.1 1344.1L471.5 1315.2L446.8 1316.4Z"/>
<path d="M502.6 1230.3L527.3 1229.5L537.7 1201.7L513.0 1202.7Z"/>
<path d="M579.3 1093.8L604.1 1093.0L614.6 1066.7L589.7 1067.7Z"/>
<path d="M568.9 1120.3L593.7 1119.7L604.1 1093.0L579.3 1093.8Z"/>
<path d="M492.2 1258.2L516.9 1257.6L527.3 1229.5L502.6 1230.3Z"/>
<path d="M645.9 989.8L670.7 989.3L681.2 964.1L656.3 964.8Z"/>
<path d="M558.5 1147.1L583.3 1146.7L593.7 1119.7L568.9 1120.3Z"/>
<path d="M481.9 1286.5L506.5 1286.1L516.9 1257.6L492.2 1258.2Z"/>
<path d="M635.4 1015.1L660.3 1014.8L670.7 989.3L645.9 989.8Z"/>
<path d="M548.1 1174.2L572.9 1174.0L583.3 1146.7L558.5 1147.1Z"/>
<path d="M625.0 1040.7L649.8 1040.6L660.3 1014.8L635.4 1015.1Z"/>
<path d="M471.5 1315.2L496.2 1314.9L506.5 1286.1L481.9 1286.5Z"/>
<path d="M537.7 1201.7L562.5 1201.7L572.9 1174.0L548.1 1174.2Z"/>
<path d="M614.6 1066.7L639.4 1066.8L649.8 1040.6L625.0 1040.7Z"/>
<path d="M461.1 1344.1L485.8 1344.1L496.2 1314.9L471.5 1315.2Z"/>
<path d="M527.3 1229.5L552.1 1229.6L562.5 1201.7L537.7 1201.7Z"/>
<path d="M604.1 1093.0L629.0 1093.2L639.4 1066.8L614.6 1066.7Z"/>
<path d="M593.7 1119.7L618.5 1120.1L629.0 1093.2L604.1 1093.0Z"/>
<path d="M516.9 1257.6L541.7 1258.0L552.1 1229.6L527.3 1229.5Z"/>
<path d="M583.3 1146.7L608.1 1147.2L618.5 1120.1L593.7 1119.7Z"/>
<path d="M506.5 1286.1L531.3 1286.6L541.7 1258.0L516.9 1257.6Z"/>
<path d="M572.9 1174.0L597.7 1174.8L608.1 1147.2L583.3 1146.7Z"/>
<path d="M496.2 1314.9L520.9 1315.6L531.3 1286.6L506.5 1286.1Z"/>
<path d="M562.5 1201.7L587.3 1202.6L597.7 1174.8L572.9 1174.0Z"/>
<path d="M485.8 1344.1L510.5 1345.0L520.9 1315.6L496.2 1314.9Z"/>
<path d="M552.1 1229.6L576.8 1230.8L587.3 1202.6L562.5 1201.7Z"/>
<path d="M541.7 1258.0L566.4 1259.3L576.8 1230.8L552.1 1229.6Z"/>
<path d="M531.3 1286.6L556.0 1288.1L566.4 1259.3L541.7 1258.0Z"/>
<path d="M520.9 1315.6L545.6 1317.3L556.0 1288.1L531.3 1286.6Z"/>
<path d="M510.5 1345.0L535.2 1346.8L545.6 1317.3L520.9 1315.6Z"/>
</g>
<line x1="152.6" y1="1087.0" x2="157.4" y2="1459.6" stroke="#000" stroke-width="4.0"/>
<path d="M156.7 1460.1L165.1 1459.4L167.6 1464.3L170.3 1463.3L178.7 1462.6L181.2 1467.5L183.9 1466.5L192.4 1465.8L194.8 1470.7L197.5 1469.7L206.0 1469.0L208.4 1473.9L211.1 1472.9L219.6 1472.2L222.0 1477.1L224.7 1476.1L233.2 1475.4L235.6 1480.3L238.3 1479.3L246.8 1478.6L249.2 1483.5L251.9 1482.5L260.4 1481.8L262.8 1486.7L265.6 1485.7L274.0 1485.0L276.4 1489.9L279.2 1488.9L287.6 1488.2L290.0 1493.1L292.8 1492.1L301.2 1491.4L303.7 1496.3L306.4 1495.3L314.8 1494.6L317.3 1499.5L320.0 1498.5L328.4 1497.8L330.9 1502.7L333.6 1501.7L342.0 1501.0L344.5 1505.9L347.2 1504.9L355.6 1504.2L358.1 1509.2L360.8 1508.2L369.2 1507.5L371.7 1512.4L374.4 1511.4L382.8 1510.7L385.3 1515.6L388.0 1514.6L396.5 1513.9L398.9 1518.8L401.6 1517.8L410.1 1517.1L412.5 1522.0L415.2 1521.0L423.7 1520.3L426.1 1525.2L428.8 1524.2L437.3 1523.5L439.7 1528.4L442.4 1527.4L450.9 1526.7L453.3 1531.6L456.1 1530.6L464.5 1529.9L466.9 1534.8L469.7 1533.8L478.1 1533.1L480.5 1538.0L483.3 1537.0L491.7 1536.3L494.2 1541.2L496.9 1540.2L505.3 1539.5L507.8 1544.4L510.5 1543.4L518.9 1542.7L521.4 1547.6L524.1 1546.6L532.5 1545.9L535.0 1550.8L537.7 1549.8L546.1 1549.1L548.6 1554.0L551.3 1553.0" fill="none" stroke="#000" stroke-width="3.3" stroke-linejoin="round" stroke-linecap="round"/>
<line x1="553.3" y1="1551.7" x2="719.0" y2="1310.4" stroke="#000" stroke-width="3.5"/>
<path d="M157.6 1453.1L146.2 1451.5L149.2 1457.5L157.6 1459.1Z" fill="#000"/>
<path d="M155.3 1280.1L143.9 1278.5L146.9 1284.5L155.3 1286.1Z" fill="#000"/>
<path d="M153.0 1109.1L141.6 1107.5L144.6 1113.5L153.0 1115.1Z" fill="#000"/>
<path d="M238.0 1476.6L233.4 1487.1" fill="none" stroke="#000" stroke-width="2.4" stroke-linecap="round"/>
<path d="M355.5 1504.6L350.9 1515.1" fill="none" stroke="#000" stroke-width="2.4" stroke-linecap="round"/>
<path d="M473.1 1531.2L468.5 1541.7" fill="none" stroke="#000" stroke-width="2.4" stroke-linecap="round"/>
<path d="M575.9 1509.6L576.6 1518.1L587.4 1518.1Z" fill="#000"/>
<path d="M628.9 1433.3L629.6 1441.8L640.4 1441.8Z" fill="#000"/>
<path d="M682.8 1355.9L683.5 1364.4L694.3 1364.4Z" fill="#000"/>
<text transform="translate(68.28,1116.31) scale(0.6677,1)" font-family='"Liberation Sans", sans-serif' font-weight="bold" font-size="39.43" fill="#000" stroke="#000" stroke-width="1.70" stroke-linejoin="round">500</text>
<text transform="translate(71.68,1286.31) scale(0.7092,1)" font-family='"Liberation Sans", sans-serif' font-weight="bold" font-size="39.43" fill="#000" stroke="#000" stroke-width="1.70" stroke-linejoin="round">450</text>
<text transform="translate(73.77,1454.19) scale(0.6986,1)" font-family='"Liberation Sans", sans-serif' font-weight="bold" font-size="40.85" fill="#000" stroke="#000" stroke-width="1.70" stroke-linejoin="round">400</text>
<text transform="translate(4.93,1256.79) scale(0.5957,1)" font-family='"Liberation Sans", sans-serif' font-weight="bold" font-size="40.99" fill="#000" stroke="#000" stroke-width="1.70" stroke-linejoin="round">CS</text>
<text transform="translate(185.28,1533.41) scale(0.7107,1)" font-family='"Liberation Sans", sans-serif' font-weight="bold" font-size="39.43" fill="#000" stroke="#000" stroke-width="1.70" stroke-linejoin="round">400</text>
<text transform="translate(302.35,1560.30) scale(0.7113,1)" font-family='"Liberation Sans", sans-serif' font-weight="bold" font-size="39.86" fill="#000" stroke="#000" stroke-width="1.70" stroke-linejoin="round">500</text>
<text transform="translate(418.33,1586.60) scale(0.7057,1)" font-family='"Liberation Sans", sans-serif' font-weight="bold" font-size="40.28" fill="#000" stroke="#000" stroke-width="1.70" stroke-linejoin="round">600</text>
<text transform="translate(275.25,1608.67) scale(0.6428,1)" font-family='"Liberation Sans", sans-serif' font-weight="bold" font-size="41.10" fill="#000" stroke="#000" stroke-width="1.70" stroke-linejoin="round">Sp</text>
<text transform="translate(719.11,1386.51) scale(0.7268,1)" font-family='"Liberation Sans", sans-serif' font-weight="bold" font-size="39.43" fill="#000" stroke="#000" stroke-width="1.70" stroke-linejoin="round">20</text>
<text transform="translate(666.60,1462.90) scale(0.6071,1)" font-family='"Liberation Sans", sans-serif' font-weight="bold" font-size="40.00" fill="#000" stroke="#000" stroke-width="1.70" stroke-linejoin="round">15</text>
<text transform="translate(612.51,1540.21) scale(0.6734,1)" font-family='"Liberation Sans", sans-serif' font-weight="bold" font-size="39.43" fill="#000" stroke="#000" stroke-width="1.70" stroke-linejoin="round">10</text>
<text transform="translate(739.07,1470.40) scale(0.6122,1)" font-family='"Liberation Sans", sans-serif' font-weight="bold" font-size="40.58" fill="#000" stroke="#000" stroke-width="1.70" stroke-linejoin="round">T</text>
</g>
<g id="pe">
<line x1="182.0" y1="2291.8" x2="349.8" y2="2055.2" stroke="#6e6e6e" stroke-width="1.0"/>
<line x1="173.8" y1="1925.5" x2="342.5" y2="1687.5" stroke="#6e6e6e" stroke-width="1.0"/>
<line x1="342.5" y1="1687.5" x2="349.8" y2="2055.2" stroke="#6e6e6e" stroke-width="1.0"/>
<line x1="738.8" y1="1774.3" x2="744.3" y2="2143.8" stroke="#6e6e6e" stroke-width="1.1"/>
<line x1="342.5" y1="1687.5" x2="738.8" y2="1774.3" stroke="#a2a2a2" stroke-width="2.2"/>
<line x1="349.8" y1="2055.2" x2="744.3" y2="2143.8" stroke="#a2a2a2" stroke-width="2.2"/>
<g fill="#CC0000" stroke="#fff" stroke-width="1.9" stroke-linejoin="round">
<path d="M213.9 2262.5L235.7 2239.0L245.9 2206.9L224.1 2230.8Z"/>
<path d="M224.1 2230.8L245.9 2206.9L256.2 2175.2L234.3 2199.5Z"/>
<path d="M234.3 2199.5L256.2 2175.2L266.4 2144.0L244.6 2168.7Z"/>
<path d="M244.6 2168.7L266.4 2144.0L276.7 2113.1L254.8 2138.2Z"/>
<path d="M235.7 2239.0L257.7 2219.7L267.9 2187.3L245.9 2206.9Z"/>
<path d="M254.8 2138.2L276.7 2113.1L286.9 2082.7L265.1 2108.2Z"/>
<path d="M245.9 2206.9L267.9 2187.3L278.1 2155.3L256.2 2175.2Z"/>
<path d="M265.1 2108.2L286.9 2082.7L297.2 2052.6L275.3 2078.5Z"/>
<path d="M256.2 2175.2L278.1 2155.3L288.4 2123.6L266.4 2144.0Z"/>
<path d="M275.3 2078.5L297.2 2052.6L307.5 2023.0L285.6 2049.3Z"/>
<path d="M257.7 2219.7L279.7 2204.6L290.0 2171.9L267.9 2187.3Z"/>
<path d="M266.4 2144.0L288.4 2123.6L298.7 2092.4L276.7 2113.1Z"/>
<path d="M285.6 2049.3L307.5 2023.0L317.8 1993.8L295.9 2020.5Z"/>
<path d="M267.9 2187.3L290.0 2171.9L300.2 2139.7L278.1 2155.3Z"/>
<path d="M276.7 2113.1L298.7 2092.4L309.0 2061.7L286.9 2082.7Z"/>
<path d="M295.9 2020.5L317.8 1993.8L328.2 1965.1L306.2 1992.2Z"/>
<path d="M286.9 2082.7L309.0 2061.7L319.2 2031.3L297.2 2052.6Z"/>
<path d="M278.1 2155.3L300.2 2139.7L310.5 2107.9L288.4 2123.6Z"/>
<path d="M306.2 1992.2L328.2 1965.1L338.5 1936.7L316.6 1964.2Z"/>
<path d="M279.7 2204.6L301.9 2193.6L312.2 2160.8L290.0 2171.9Z"/>
<path d="M297.2 2052.6L319.2 2031.3L329.6 2001.3L307.5 2023.0Z"/>
<path d="M288.4 2123.6L310.5 2107.9L320.8 2076.5L298.7 2092.4Z"/>
<path d="M316.6 1964.2L338.5 1936.7L348.9 1908.8L326.9 1936.7Z"/>
<path d="M290.0 2171.9L312.2 2160.8L322.4 2128.4L300.2 2139.7Z"/>
<path d="M307.5 2023.0L329.6 2001.3L339.9 1971.8L317.8 1993.8Z"/>
<path d="M326.9 1936.7L348.9 1908.8L359.2 1881.3L337.2 1909.6Z"/>
<path d="M298.7 2092.4L320.8 2076.5L331.1 2045.5L309.0 2061.7Z"/>
<path d="M337.2 1909.6L359.2 1881.3L369.6 1854.2L347.6 1882.9Z"/>
<path d="M300.2 2139.7L322.4 2128.4L332.7 2096.5L310.5 2107.9Z"/>
<path d="M317.8 1993.8L339.9 1971.8L350.2 1942.7L328.2 1965.1Z"/>
<path d="M309.0 2061.7L331.1 2045.5L341.4 2014.9L319.2 2031.3Z"/>
<path d="M301.9 2193.6L324.2 2186.7L334.5 2153.9L312.2 2160.8Z"/>
<path d="M347.6 1882.9L369.6 1854.2L380.0 1827.5L358.0 1856.6Z"/>
<path d="M328.2 1965.1L350.2 1942.7L360.6 1914.0L338.5 1936.7Z"/>
<path d="M310.5 2107.9L332.7 2096.5L343.0 2064.9L320.8 2076.5Z"/>
<path d="M319.2 2031.3L341.4 2014.9L351.7 1984.7L329.6 2001.3Z"/>
<path d="M312.2 2160.8L334.5 2153.9L344.7 2121.4L322.4 2128.4Z"/>
<path d="M338.5 1936.7L360.6 1914.0L370.9 1885.7L348.9 1908.8Z"/>
<path d="M320.8 2076.5L343.0 2064.9L353.3 2033.8L331.1 2045.5Z"/>
<path d="M329.6 2001.3L351.7 1984.7L362.0 1955.0L339.9 1971.8Z"/>
<path d="M322.4 2128.4L344.7 2121.4L355.0 2089.4L332.7 2096.5Z"/>
<path d="M324.2 2186.7L346.6 2184.0L356.9 2151.1L334.5 2153.9Z"/>
<path d="M348.9 1908.8L370.9 1885.7L381.3 1857.9L359.2 1881.3Z"/>
<path d="M331.1 2045.5L353.3 2033.8L363.6 2003.1L341.4 2014.9Z"/>
<path d="M339.9 1971.8L362.0 1955.0L372.4 1925.7L350.2 1942.7Z"/>
<path d="M359.2 1881.3L381.3 1857.9L391.7 1830.5L369.6 1854.2Z"/>
<path d="M332.7 2096.5L355.0 2089.4L365.3 2057.8L343.0 2064.9Z"/>
<path d="M334.5 2153.9L356.9 2151.1L367.2 2118.6L344.7 2121.4Z"/>
<path d="M350.2 1942.7L372.4 1925.7L382.7 1896.8L360.6 1914.0Z"/>
<path d="M341.4 2014.9L363.6 2003.1L374.0 1972.8L351.7 1984.7Z"/>
<path d="M369.6 1854.2L391.7 1830.5L402.1 1803.5L380.0 1827.5Z"/>
<path d="M346.6 2184.0L369.1 2185.3L379.4 2152.3L356.9 2151.1Z"/>
<path d="M343.0 2064.9L365.3 2057.8L375.7 2026.6L353.3 2033.8Z"/>
<path d="M344.7 2121.4L367.2 2118.6L377.5 2086.5L355.0 2089.4Z"/>
<path d="M360.6 1914.0L382.7 1896.8L393.1 1868.3L370.9 1885.7Z"/>
<path d="M351.7 1984.7L374.0 1972.8L384.3 1942.9L362.0 1955.0Z"/>
<path d="M356.9 2151.1L379.4 2152.3L389.7 2119.8L367.2 2118.6Z"/>
<path d="M353.3 2033.8L375.7 2026.6L386.0 1995.8L363.6 2003.1Z"/>
<path d="M370.9 1885.7L393.1 1868.3L403.5 1840.2L381.3 1857.9Z"/>
<path d="M355.0 2089.4L377.5 2086.5L387.8 2054.8L365.3 2057.8Z"/>
<path d="M362.0 1955.0L384.3 1942.9L394.7 1913.4L372.4 1925.7Z"/>
<path d="M369.1 2185.3L391.7 2190.7L402.0 2157.7L379.4 2152.3Z"/>
<path d="M381.3 1857.9L403.5 1840.2L413.9 1812.6L391.7 1830.5Z"/>
<path d="M363.6 2003.1L386.0 1995.8L396.3 1965.5L374.0 1972.8Z"/>
<path d="M367.2 2118.6L389.7 2119.8L400.0 2087.6L377.5 2086.5Z"/>
<path d="M372.4 1925.7L394.7 1913.4L405.0 1884.4L382.7 1896.8Z"/>
<path d="M365.3 2057.8L387.8 2054.8L398.1 2023.6L375.7 2026.6Z"/>
<path d="M391.7 1830.5L413.9 1812.6L424.3 1785.4L402.1 1803.5Z"/>
<path d="M379.4 2152.3L402.0 2157.7L412.3 2125.1L389.7 2119.8Z"/>
<path d="M374.0 1972.8L396.3 1965.5L406.7 1935.5L384.3 1942.9Z"/>
<path d="M391.7 2190.7L414.4 2200.2L424.7 2167.1L402.0 2157.7Z"/>
<path d="M382.7 1896.8L405.0 1884.4L415.4 1855.8L393.1 1868.3Z"/>
<path d="M377.5 2086.5L400.0 2087.6L410.3 2055.9L387.8 2054.8Z"/>
<path d="M375.7 2026.6L398.1 2023.6L408.4 1992.7L386.0 1995.8Z"/>
<path d="M389.7 2119.8L412.3 2125.1L422.6 2092.9L400.0 2087.6Z"/>
<path d="M384.3 1942.9L406.7 1935.5L417.0 1906.0L394.7 1913.4Z"/>
<path d="M393.1 1868.3L415.4 1855.8L425.8 1827.6L403.5 1840.2Z"/>
<path d="M402.0 2157.7L424.7 2167.1L435.0 2134.3L412.3 2125.1Z"/>
<path d="M414.4 2200.2L437.2 2213.9L447.5 2180.6L424.7 2167.1Z"/>
<path d="M387.8 2054.8L410.3 2055.9L420.7 2024.6L398.1 2023.6Z"/>
<path d="M386.0 1995.8L408.4 1992.7L418.8 1962.3L396.3 1965.5Z"/>
<path d="M403.5 1840.2L425.8 1827.6L436.2 1799.8L413.9 1812.6Z"/>
<path d="M394.7 1913.4L417.0 1906.0L427.4 1876.9L405.0 1884.4Z"/>
<path d="M400.0 2087.6L422.6 2092.9L433.0 2061.1L410.3 2055.9Z"/>
<path d="M437.2 2213.9L460.1 2231.7L470.4 2198.3L447.5 2180.6Z"/>
<path d="M396.3 1965.5L418.8 1962.3L429.2 1932.3L406.7 1935.5Z"/>
<path d="M412.3 2125.1L435.0 2134.3L445.4 2102.0L422.6 2092.9Z"/>
<path d="M398.1 2023.6L420.7 2024.6L431.0 1993.7L408.4 1992.7Z"/>
<path d="M424.7 2167.1L447.5 2180.6L457.9 2147.7L435.0 2134.3Z"/>
<path d="M413.9 1812.6L436.2 1799.8L446.6 1772.5L424.3 1785.4Z"/>
<path d="M405.0 1884.4L427.4 1876.9L437.8 1848.3L415.4 1855.8Z"/>
<path d="M460.1 2231.7L483.1 2253.6L493.4 2220.2L470.4 2198.3Z"/>
<path d="M410.3 2055.9L433.0 2061.1L443.3 2029.7L420.7 2024.6Z"/>
<path d="M483.1 2253.6L506.2 2279.8L516.5 2246.2L493.4 2220.2Z"/>
<path d="M406.7 1935.5L429.2 1932.3L439.5 1902.8L417.0 1906.0Z"/>
<path d="M506.2 2279.8L529.3 2310.2L539.6 2276.6L516.5 2246.2Z"/>
<path d="M447.5 2180.6L470.4 2198.3L480.8 2165.3L457.9 2147.7Z"/>
<path d="M408.4 1992.7L431.0 1993.7L441.4 1963.3L418.8 1962.3Z"/>
<path d="M422.6 2092.9L445.4 2102.0L455.7 2070.1L433.0 2061.1Z"/>
<path d="M435.0 2134.3L457.9 2147.7L468.2 2115.3L445.4 2102.0Z"/>
<path d="M415.4 1855.8L437.8 1848.3L448.2 1820.0L425.8 1827.6Z"/>
<path d="M470.4 2198.3L493.4 2220.2L503.8 2187.1L480.8 2165.3Z"/>
<path d="M420.7 2024.6L443.3 2029.7L453.7 1998.7L431.0 1993.7Z"/>
<path d="M417.0 1906.0L439.5 1902.8L449.9 1873.6L427.4 1876.9Z"/>
<path d="M418.8 1962.3L441.4 1963.3L451.7 1933.2L429.2 1932.3Z"/>
<path d="M493.4 2220.2L516.5 2246.2L526.8 2213.1L503.8 2187.1Z"/>
<path d="M425.8 1827.6L448.2 1820.0L458.6 1792.2L436.2 1799.8Z"/>
<path d="M457.9 2147.7L480.8 2165.3L491.1 2132.8L468.2 2115.3Z"/>
<path d="M516.5 2246.2L539.6 2276.6L550.0 2243.3L526.8 2213.1Z"/>
<path d="M433.0 2061.1L455.7 2070.1L466.1 2038.6L443.3 2029.7Z"/>
<path d="M445.4 2102.0L468.2 2115.3L478.5 2083.3L455.7 2070.1Z"/>
<path d="M427.4 1876.9L449.9 1873.6L460.3 1844.9L437.8 1848.3Z"/>
<path d="M431.0 1993.7L453.7 1998.7L464.0 1968.2L441.4 1963.3Z"/>
<path d="M480.8 2165.3L503.8 2187.1L514.1 2154.5L491.1 2132.8Z"/>
<path d="M436.2 1799.8L458.6 1792.2L469.1 1764.8L446.6 1772.5Z"/>
<path d="M429.2 1932.3L451.7 1933.2L462.1 1903.6L439.5 1902.8Z"/>
<path d="M503.8 2187.1L526.8 2213.1L537.2 2180.4L514.1 2154.5Z"/>
<path d="M443.3 2029.7L466.1 2038.6L476.4 2007.5L453.7 1998.7Z"/>
<path d="M468.2 2115.3L491.1 2132.8L501.5 2100.6L478.5 2083.3Z"/>
<path d="M526.8 2213.1L550.0 2243.3L560.3 2210.5L537.2 2180.4Z"/>
<path d="M455.7 2070.1L478.5 2083.3L488.9 2051.6L466.1 2038.6Z"/>
<path d="M437.8 1848.3L460.3 1844.9L470.7 1816.6L448.2 1820.0Z"/>
<path d="M441.4 1963.3L464.0 1968.2L474.4 1938.1L451.7 1933.2Z"/>
<path d="M439.5 1902.8L462.1 1903.6L472.5 1874.4L449.9 1873.6Z"/>
<path d="M491.1 2132.8L514.1 2154.5L524.5 2122.2L501.5 2100.6Z"/>
<path d="M453.7 1998.7L476.4 2007.5L486.8 1976.8L464.0 1968.2Z"/>
<path d="M514.1 2154.5L537.2 2180.4L547.6 2148.0L524.5 2122.2Z"/>
<path d="M478.5 2083.3L501.5 2100.6L511.8 2068.9L488.9 2051.6Z"/>
<path d="M448.2 1820.0L470.7 1816.6L481.2 1788.7L458.6 1792.2Z"/>
<path d="M537.2 2180.4L560.3 2210.5L570.7 2178.1L547.6 2148.0Z"/>
<path d="M466.1 2038.6L488.9 2051.6L499.3 2020.4L476.4 2007.5Z"/>
<path d="M451.7 1933.2L474.4 1938.1L484.8 1908.4L462.1 1903.6Z"/>
<path d="M449.9 1873.6L472.5 1874.4L482.9 1845.6L460.3 1844.9Z"/>
<path d="M501.5 2100.6L524.5 2122.2L534.8 2090.4L511.8 2068.9Z"/>
<path d="M458.6 1792.2L481.2 1788.7L491.6 1761.2L469.1 1764.8Z"/>
<path d="M464.0 1968.2L486.8 1976.8L497.2 1946.6L474.4 1938.1Z"/>
<path d="M488.9 2051.6L511.8 2068.9L522.2 2037.6L499.3 2020.4Z"/>
<path d="M524.5 2122.2L547.6 2148.0L557.9 2116.1L534.8 2090.4Z"/>
<path d="M476.4 2007.5L499.3 2020.4L509.7 1989.6L486.8 1976.8Z"/>
<path d="M547.6 2148.0L570.7 2178.1L581.1 2146.1L557.9 2116.1Z"/>
<path d="M460.3 1844.9L482.9 1845.6L493.4 1817.2L470.7 1816.6Z"/>
<path d="M462.1 1903.6L484.8 1908.4L495.2 1879.1L472.5 1874.4Z"/>
<path d="M511.8 2068.9L534.8 2090.4L545.2 2059.0L522.2 2037.6Z"/>
<path d="M474.4 1938.1L497.2 1946.6L507.6 1916.7L484.8 1908.4Z"/>
<path d="M499.3 2020.4L522.2 2037.6L532.6 2006.7L509.7 1989.6Z"/>
<path d="M486.8 1976.8L509.7 1989.6L520.1 1959.3L497.2 1946.6Z"/>
<path d="M470.7 1816.6L493.4 1817.2L503.8 1789.3L481.2 1788.7Z"/>
<path d="M534.8 2090.4L557.9 2116.1L568.3 2084.7L545.2 2059.0Z"/>
<path d="M472.5 1874.4L495.2 1879.1L505.6 1850.3L482.9 1845.6Z"/>
<path d="M557.9 2116.1L581.1 2146.1L591.5 2114.6L568.3 2084.7Z"/>
<path d="M522.2 2037.6L545.2 2059.0L555.6 2028.0L532.6 2006.7Z"/>
<path d="M484.8 1908.4L507.6 1916.7L518.0 1887.3L495.2 1879.1Z"/>
<path d="M481.2 1788.7L503.8 1789.3L514.2 1761.8L491.6 1761.2Z"/>
<path d="M482.9 1845.6L505.6 1850.3L516.1 1821.8L493.4 1817.2Z"/>
<path d="M509.7 1989.6L532.6 2006.7L543.0 1976.2L520.1 1959.3Z"/>
<path d="M497.2 1946.6L520.1 1959.3L530.5 1929.3L507.6 1916.7Z"/>
<path d="M545.2 2059.0L568.3 2084.7L578.7 2053.6L555.6 2028.0Z"/>
<path d="M568.3 2084.7L591.5 2114.6L601.9 2083.4L578.7 2053.6Z"/>
<path d="M495.2 1879.1L518.0 1887.3L528.4 1858.3L505.6 1850.3Z"/>
<path d="M532.6 2006.7L555.6 2028.0L566.0 1997.5L543.0 1976.2Z"/>
<path d="M493.4 1817.2L516.1 1821.8L526.5 1793.8L503.8 1789.3Z"/>
<path d="M507.6 1916.7L530.5 1929.3L540.9 1899.8L518.0 1887.3Z"/>
<path d="M520.1 1959.3L543.0 1976.2L553.4 1946.2L530.5 1929.3Z"/>
<path d="M555.6 2028.0L578.7 2053.6L589.1 2022.9L566.0 1997.5Z"/>
<path d="M578.7 2053.6L601.9 2083.4L612.3 2052.7L589.1 2022.9Z"/>
<path d="M505.6 1850.3L528.4 1858.3L538.9 1829.8L516.1 1821.8Z"/>
<path d="M503.8 1789.3L526.5 1793.8L537.0 1766.2L514.2 1761.8Z"/>
<path d="M543.0 1976.2L566.0 1997.5L576.5 1967.3L553.4 1946.2Z"/>
<path d="M518.0 1887.3L540.9 1899.8L551.3 1870.7L528.4 1858.3Z"/>
<path d="M530.5 1929.3L553.4 1946.2L563.8 1916.6L540.9 1899.8Z"/>
<path d="M566.0 1997.5L589.1 2022.9L599.6 1992.7L576.5 1967.3Z"/>
<path d="M589.1 2022.9L612.3 2052.7L622.8 2022.4L599.6 1992.7Z"/>
<path d="M516.1 1821.8L538.9 1829.8L549.3 1801.6L526.5 1793.8Z"/>
<path d="M553.4 1946.2L576.5 1967.3L586.9 1937.6L563.8 1916.6Z"/>
<path d="M528.4 1858.3L551.3 1870.7L561.8 1842.0L538.9 1829.8Z"/>
<path d="M540.9 1899.8L563.8 1916.6L574.3 1887.3L551.3 1870.7Z"/>
<path d="M576.5 1967.3L599.6 1992.7L610.0 1962.9L586.9 1937.6Z"/>
<path d="M526.5 1793.8L549.3 1801.6L559.8 1773.9L537.0 1766.2Z"/>
<path d="M599.6 1992.7L622.8 2022.4L633.2 1992.5L610.0 1962.9Z"/>
<path d="M563.8 1916.6L586.9 1937.6L597.3 1908.3L574.3 1887.3Z"/>
<path d="M538.9 1829.8L561.8 1842.0L572.2 1813.8L549.3 1801.6Z"/>
<path d="M551.3 1870.7L574.3 1887.3L584.7 1858.6L561.8 1842.0Z"/>
<path d="M586.9 1937.6L610.0 1962.9L620.5 1933.5L597.3 1908.3Z"/>
<path d="M610.0 1962.9L633.2 1992.5L643.7 1963.0L620.5 1933.5Z"/>
<path d="M549.3 1801.6L572.2 1813.8L582.7 1785.9L559.8 1773.9Z"/>
<path d="M574.3 1887.3L597.3 1908.3L607.8 1879.4L584.7 1858.6Z"/>
<path d="M561.8 1842.0L584.7 1858.6L595.2 1830.2L572.2 1813.8Z"/>
<path d="M597.3 1908.3L620.5 1933.5L630.9 1904.5L607.8 1879.4Z"/>
<path d="M620.5 1933.5L643.7 1963.0L654.1 1933.9L630.9 1904.5Z"/>
<path d="M584.7 1858.6L607.8 1879.4L618.3 1850.9L595.2 1830.2Z"/>
<path d="M572.2 1813.8L595.2 1830.2L605.7 1802.2L582.7 1785.9Z"/>
<path d="M607.8 1879.4L630.9 1904.5L641.4 1876.0L618.3 1850.9Z"/>
<path d="M630.9 1904.5L654.1 1933.9L664.6 1905.3L641.4 1876.0Z"/>
<path d="M595.2 1830.2L618.3 1850.9L628.7 1822.9L605.7 1802.2Z"/>
<path d="M618.3 1850.9L641.4 1876.0L651.9 1847.8L628.7 1822.9Z"/>
<path d="M641.4 1876.0L664.6 1905.3L675.1 1877.1L651.9 1847.8Z"/>
</g>
<line x1="174.1" y1="1927.0" x2="181.2" y2="2291.8" stroke="#000" stroke-width="4.0"/>
<path d="M180.5 2292.3L188.9 2291.6L191.4 2296.4L194.1 2295.4L202.5 2294.7L204.9 2299.5L207.6 2298.5L216.1 2297.8L218.5 2302.6L221.2 2301.6L229.6 2300.9L232.1 2305.8L234.8 2304.8L243.2 2304.1L245.6 2308.9L248.3 2307.9L256.8 2307.2L259.2 2312.0L261.9 2311.0L270.3 2310.3L272.8 2315.1L275.5 2314.1L283.9 2313.4L286.3 2318.2L289.1 2317.2L297.5 2316.5L299.9 2321.3L302.6 2320.3L311.0 2319.6L313.5 2324.4L316.2 2323.4L324.6 2322.7L327.0 2327.6L329.8 2326.6L338.2 2325.9L340.6 2330.7L343.3 2329.7L351.7 2329.0L354.2 2333.8L356.9 2332.8L365.3 2332.1L367.8 2336.9L370.5 2335.9L378.9 2335.2L381.3 2340.0L384.0 2339.0L392.4 2338.3L394.9 2343.1L397.6 2342.1L406.0 2341.4L408.5 2346.2L411.2 2345.2L419.6 2344.5L422.0 2349.3L424.7 2348.3L433.2 2347.6L435.6 2352.5L438.3 2351.5L446.7 2350.8L449.2 2355.6L451.9 2354.6L460.3 2353.9L462.7 2358.7L465.4 2357.7L473.9 2357.0L476.3 2361.8L479.0 2360.8L487.4 2360.1L489.9 2364.9L492.6 2363.9L501.0 2363.2L503.4 2368.0L506.2 2367.0L514.6 2366.3L517.0 2371.1L519.7 2370.1L528.1 2369.4L530.6 2374.3L533.3 2373.3L541.7 2372.6L544.1 2377.4L546.9 2376.4L555.3 2375.7L557.7 2380.5L560.4 2379.5L568.8 2378.8L571.3 2383.6L574.0 2382.6" fill="none" stroke="#000" stroke-width="3.3" stroke-linejoin="round" stroke-linecap="round"/>
<line x1="576.0" y1="2381.3" x2="743.1" y2="2145.8" stroke="#000" stroke-width="3.5"/>
<path d="M180.0 2235.7L168.6 2234.1L171.6 2240.1L180.0 2241.7Z" fill="#000"/>
<path d="M178.5 2144.5L167.1 2142.9L170.1 2148.9L178.5 2150.5Z" fill="#000"/>
<path d="M177.0 2051.1L165.6 2049.5L168.6 2055.5L177.0 2057.1Z" fill="#000"/>
<path d="M175.6 1956.3L164.2 1954.7L167.2 1960.7L175.6 1962.3Z" fill="#000"/>
<path d="M183.5 2292.0L178.9 2302.5" fill="none" stroke="#000" stroke-width="2.4" stroke-linecap="round"/>
<path d="M313.9 2320.6L309.3 2331.1" fill="none" stroke="#000" stroke-width="2.4" stroke-linecap="round"/>
<path d="M442.7 2350.0L438.1 2360.5" fill="none" stroke="#000" stroke-width="2.4" stroke-linecap="round"/>
<path d="M574.8 2381.0L570.2 2391.5" fill="none" stroke="#000" stroke-width="2.4" stroke-linecap="round"/>
<path d="M601.0 2340.5L601.7 2349.0L612.5 2349.0Z" fill="#000"/>
<path d="M655.0 2265.2L655.7 2273.7L666.5 2273.7Z" fill="#000"/>
<path d="M707.9 2188.8L708.6 2197.3L719.4 2197.3Z" fill="#000"/>
<text transform="translate(88.70,1961.61) scale(0.7431,1)" font-family='"Liberation Sans", sans-serif' font-weight="bold" font-size="38.59" fill="#000" stroke="#000" stroke-width="1.70" stroke-linejoin="round">480</text>
<text transform="translate(90.99,2055.00) scale(0.7235,1)" font-family='"Liberation Sans", sans-serif' font-weight="bold" font-size="39.58" fill="#000" stroke="#000" stroke-width="1.70" stroke-linejoin="round">460</text>
<text transform="translate(93.18,2148.90) scale(0.7159,1)" font-family='"Liberation Sans", sans-serif' font-weight="bold" font-size="39.58" fill="#000" stroke="#000" stroke-width="1.70" stroke-linejoin="round">440</text>
<text transform="translate(93.18,2240.50) scale(0.7159,1)" font-family='"Liberation Sans", sans-serif' font-weight="bold" font-size="39.58" fill="#000" stroke="#000" stroke-width="1.70" stroke-linejoin="round">420</text>
<text transform="translate(25.02,2092.80) scale(0.6518,1)" font-family='"Liberation Sans", sans-serif' font-weight="bold" font-size="39.58" fill="#000" stroke="#000" stroke-width="1.70" stroke-linejoin="round">CS</text>
<text transform="translate(132.63,2348.20) scale(0.7325,1)" font-family='"Liberation Sans", sans-serif' font-weight="bold" font-size="39.72" fill="#000" stroke="#000" stroke-width="1.70" stroke-linejoin="round">640</text>
<text transform="translate(260.80,2377.90) scale(0.7186,1)" font-family='"Liberation Sans", sans-serif' font-weight="bold" font-size="39.58" fill="#000" stroke="#000" stroke-width="1.70" stroke-linejoin="round">720</text>
<text transform="translate(388.09,2404.01) scale(0.7276,1)" font-family='"Liberation Sans", sans-serif' font-weight="bold" font-size="39.43" fill="#000" stroke="#000" stroke-width="1.70" stroke-linejoin="round">800</text>
<text transform="translate(515.47,2432.79) scale(0.7054,1)" font-family='"Liberation Sans", sans-serif' font-weight="bold" font-size="40.71" fill="#000" stroke="#000" stroke-width="1.70" stroke-linejoin="round">880</text>
<text transform="translate(293.61,2436.60) scale(0.7052,1)" font-family='"Liberation Sans", sans-serif' font-weight="bold" font-size="40.73" fill="#000" stroke="#000" stroke-width="1.70" stroke-linejoin="round">Tm</text>
<text transform="translate(744.21,2220.41) scale(0.7268,1)" font-family='"Liberation Sans", sans-serif' font-weight="bold" font-size="39.43" fill="#000" stroke="#000" stroke-width="1.70" stroke-linejoin="round">20</text>
<text transform="translate(691.71,2296.31) scale(0.6177,1)" font-family='"Liberation Sans", sans-serif' font-weight="bold" font-size="39.28" fill="#000" stroke="#000" stroke-width="1.70" stroke-linejoin="round">15</text>
<text transform="translate(637.61,2371.11) scale(0.6734,1)" font-family='"Liberation Sans", sans-serif' font-weight="bold" font-size="39.43" fill="#000" stroke="#000" stroke-width="1.70" stroke-linejoin="round">10</text>
<text transform="translate(763.19,2302.20) scale(0.6512,1)" font-family='"Liberation Sans", sans-serif' font-weight="bold" font-size="40.58" fill="#000" stroke="#000" stroke-width="1.70" stroke-linejoin="round">T</text>
</g>
<g id="pb">
<clipPath id="cpb"><rect x="935.9" y="11.8" width="706.5" height="653.0"/></clipPath>
<g clip-path="url(#cpb)">
<rect x="934.9" y="10.8" width="708.5" height="655.0" fill="#EFD8D3"/>
<path d="M1027.2 11.6L1029.5 9.8L1644.4 9.8L1644.4 666.8L1048.0 666.8L1030.9 656.7L1015.0 646.8L1001.1 637.5L985.5 626.5L973.3 617.4L959.5 606.4L946.6 595.4L933.9 583.8L933.9 99.6L944.0 88.5L954.4 77.5L965.3 66.5L976.7 55.6L988.5 44.6L1000.9 33.6L1013.8 22.6L1027.2 11.6Z" fill="#EE9696"/>
<path d="M1176.5 11.6L1179.1 9.8L1644.4 9.8L1644.4 666.8L1265.6 666.8L1242.6 657.7L1222.8 649.1L1203.1 640.0L1183.3 630.2L1165.5 620.7L1146.9 610.1L1129.2 599.1L1112.8 588.1L1096.2 576.1L1081.1 564.3L1068.1 553.3L1054.2 540.5L1041.5 527.7L1029.8 514.9L1019.3 502.1L1009.7 489.3L1001.1 476.5L992.3 461.8L984.7 447.2L978.2 432.5L972.7 417.9L968.2 403.3L964.6 388.6L962.1 374.0L960.4 359.3L959.6 344.7L959.7 330.1L960.9 313.6L962.9 299.0L966.1 282.5L969.8 267.8L975.0 251.4L981.2 234.9L987.7 220.3L995.3 205.1L1004.2 189.1L1013.2 174.5L1024.5 158.0L1036.8 141.6L1048.7 127.0L1061.5 112.3L1075.3 97.6L1090.0 83.0L1105.7 68.4L1122.4 53.7L1140.2 39.1L1157.5 25.6L1176.5 11.6Z" fill="#E5686A"/>
<path d="M1357.7 11.6L1360.8 9.8L1644.4 9.8L1644.4 660.8L1620.7 658.1L1596.9 655.0L1573.2 651.4L1551.4 647.7L1529.6 643.6L1507.8 639.0L1485.6 633.9L1464.3 628.5L1444.2 622.9L1424.7 617.0L1404.9 610.6L1385.1 603.6L1367.3 596.8L1349.5 589.5L1331.7 581.6L1314.7 573.5L1300.0 566.0L1283.7 557.0L1268.3 547.8L1254.1 538.7L1240.7 529.4L1226.8 519.0L1214.9 509.4L1202.5 498.4L1191.2 487.5L1180.8 476.5L1171.4 465.5L1162.9 454.5L1155.3 443.5L1148.4 432.5L1141.7 420.4L1136.1 408.8L1131.6 397.8L1127.2 385.0L1123.6 372.2L1121.0 359.3L1119.4 348.4L1118.3 335.6L1118.0 322.7L1118.5 309.9L1119.8 297.1L1121.9 284.3L1124.7 271.5L1128.3 258.7L1132.7 245.9L1137.8 233.1L1143.7 220.2L1151.3 205.6L1158.8 192.8L1167.1 180.0L1176.2 167.2L1186.1 154.4L1196.8 141.6L1208.3 128.8L1220.7 115.9L1232.0 105.0L1244.6 93.4L1258.8 81.2L1274.3 68.6L1289.0 57.4L1306.0 45.1L1322.9 33.6L1339.8 22.6L1357.7 11.6Z" fill="#C94545"/>
<path d="M1609.4 11.6L1613.9 9.8L1644.4 9.8L1644.4 553.2L1626.6 549.8L1609.0 546.0L1592.9 542.2L1575.1 537.6L1559.3 533.1L1541.9 527.7L1525.7 522.2L1511.8 517.1L1497.1 511.2L1484.1 505.7L1470.2 499.3L1456.4 492.3L1444.0 485.6L1431.5 478.3L1420.0 471.0L1409.3 463.7L1399.0 456.0L1388.1 447.2L1379.2 439.3L1370.3 430.7L1363.4 423.3L1355.5 414.2L1348.5 405.1L1342.1 395.9L1336.6 386.8L1331.7 377.6L1327.4 368.5L1323.2 357.5L1320.3 348.4L1317.7 337.4L1316.1 328.2L1314.9 317.3L1314.5 308.1L1314.8 297.1L1315.8 286.1L1317.2 277.0L1319.6 266.0L1322.1 256.9L1325.8 245.9L1330.3 234.9L1335.4 223.9L1341.3 212.9L1347.5 202.6L1354.1 192.8L1361.4 182.8L1369.4 172.7L1378.8 161.7L1387.3 152.5L1397.0 142.8L1408.1 132.4L1420.6 121.4L1431.8 112.3L1443.7 103.1L1456.2 94.0L1469.5 84.8L1483.6 75.7L1497.9 66.9L1511.8 58.8L1527.6 50.1L1543.5 41.8L1560.0 33.6L1575.6 26.3L1592.1 19.0L1609.4 11.6Z" fill="#961E20"/>
<path d="M1644.3 200.1L1644.4 200.0L1644.4 351.2L1636.5 343.3L1629.8 335.6L1623.3 326.4L1618.1 317.3L1614.2 308.1L1611.4 299.0L1609.7 289.8L1609.1 284.3L1609.0 278.8L1609.5 269.7L1610.2 264.2L1611.3 258.7L1612.8 253.2L1614.6 247.7L1618.3 238.6L1621.0 233.1L1624.0 227.6L1629.8 218.4L1636.5 209.3L1644.3 200.1Z" fill="#640F15"/>
<path d="M933.9 99.6L944.0 88.5L955.7 76.2L967.2 64.7L978.6 53.7L990.6 42.7L1003.0 31.8L1016.0 20.8L1029.5 9.8M1048.0 666.8L1030.9 656.7L1015.0 646.8L1001.1 637.5L985.5 626.5L973.3 617.4L959.5 606.4L946.6 595.4L933.9 583.8M1265.6 666.8L1248.6 660.1L1232.7 653.5L1217.3 646.7L1201.7 639.3L1186.9 632.0L1172.8 624.7L1159.5 617.4L1145.7 609.3L1132.1 600.9L1119.9 593.0L1107.6 584.4L1095.1 575.3L1083.4 566.1L1072.4 557.0L1062.0 547.8L1052.3 538.7L1042.8 529.1L1033.0 518.6L1025.2 509.4L1017.0 499.2L1009.7 489.3L1002.2 478.3L996.6 469.2L990.3 458.2L984.7 447.2L979.7 436.2L975.3 425.2L971.5 414.2L968.2 403.3L965.4 392.3L963.2 381.3L961.6 370.3L960.4 359.3L959.7 348.4L959.6 337.4L960.0 324.6L960.9 313.6L962.3 302.6L964.1 291.6L966.9 278.8L969.8 267.8L973.7 255.0L977.6 244.1L982.8 231.2L987.7 220.3L993.3 208.9L999.9 196.5L1006.3 185.5L1013.2 174.5L1021.0 163.0L1029.8 150.7L1038.2 139.7L1047.2 128.8L1056.6 117.8L1066.6 106.8L1077.1 95.8L1088.1 84.8L1099.7 73.9L1111.8 62.9L1124.6 51.9L1137.9 40.9L1151.6 30.1L1165.5 19.7L1179.1 9.8M1644.4 660.8L1620.7 658.1L1596.9 655.0L1573.2 651.4L1551.4 647.7L1529.6 643.6L1507.8 639.0L1485.6 633.9L1464.3 628.5L1444.2 622.9L1424.7 617.0L1404.9 610.6L1385.1 603.6L1365.3 596.0L1347.5 588.6L1329.9 580.8L1313.9 573.1L1296.9 564.3L1282.2 556.1L1266.4 546.6L1252.5 537.7L1238.7 528.0L1226.2 518.6L1214.9 509.4L1202.5 498.4L1191.2 487.5L1180.8 476.5L1171.4 465.5L1162.9 454.5L1155.3 443.5L1147.3 430.7L1141.4 419.7L1135.3 406.9L1130.9 395.9L1126.6 383.1L1123.2 370.3L1120.7 357.5L1119.0 344.7L1118.1 331.9L1118.1 319.1L1118.8 306.3L1120.3 293.5L1122.6 280.7L1125.7 267.8L1129.5 255.0L1134.1 242.2L1139.4 229.4L1145.5 216.6L1152.3 203.8L1160.0 191.0L1168.4 178.2L1177.5 165.4L1187.5 152.5L1198.4 139.7L1210.0 126.9L1222.5 114.1L1234.7 102.4L1248.1 90.3L1262.4 78.2L1277.0 66.5L1292.1 55.1L1309.4 42.7L1325.6 31.8L1342.8 20.8L1360.8 9.8M1644.4 553.2L1626.6 549.8L1608.8 546.0L1591.0 541.7L1573.2 537.1L1557.3 532.5L1541.5 527.6L1525.7 522.2L1510.8 516.7L1497.1 511.2L1482.1 504.8L1468.3 498.3L1454.4 491.3L1440.8 483.8L1428.7 476.6L1417.2 469.2L1406.9 461.9L1397.0 454.5L1386.0 445.4L1377.2 437.4L1368.6 428.9L1361.4 421.1L1354.0 412.4L1347.1 403.3L1341.0 394.1L1335.5 385.0L1330.8 375.8L1326.7 366.7L1322.6 355.7L1319.8 346.5L1317.3 335.6L1315.8 326.4L1314.8 315.4L1314.5 306.3L1314.9 295.3L1315.8 286.1L1317.6 275.2L1320.0 264.2L1323.3 253.2L1327.2 242.2L1331.1 233.1L1336.4 222.1L1341.6 212.5L1348.0 202.0L1355.4 191.0L1363.4 180.2L1370.9 170.8L1379.2 161.3L1389.1 150.7L1399.0 140.9L1410.1 130.6L1420.6 121.4L1432.6 111.6L1446.1 101.3L1458.8 92.2L1472.3 83.0L1486.1 74.1L1499.9 65.7L1514.3 57.4L1529.6 49.0L1545.4 40.8L1561.3 33.0L1579.1 24.7L1596.3 17.1L1613.9 9.8M1644.4 351.2L1636.5 343.3L1629.8 335.6L1623.3 326.4L1618.1 317.3L1614.2 308.1L1611.4 299.0L1609.7 289.8L1609.1 284.3L1609.0 278.8L1609.5 269.7L1610.2 264.2L1611.3 258.7L1612.8 253.2L1614.6 247.7L1618.3 238.6L1621.0 233.1L1624.0 227.6L1629.8 218.4L1636.5 209.3L1644.4 200.0" fill="none" stroke="#000" stroke-width="1.9"/>
<rect x="941.2" y="32.3" width="86.7" height="34.4" fill="#fff"/>
<rect x="1093.2" y="26.3" width="86.7" height="33.9" fill="#fff"/>
<rect x="1498.6" y="26.0" width="87.3" height="36.7" fill="#fff"/>
<rect x="941.2" y="607.9" width="86.7" height="34.3" fill="#fff"/>
<rect x="1498.3" y="627.7" width="87.0" height="37.1" fill="#fff"/>

</g>
<text transform="translate(955.23,61.37) scale(1.2241,1)" font-family='"Liberation Sans", sans-serif' font-weight="bold" font-size="28.27" fill="#000" stroke="#000" stroke-width="0.90" stroke-linejoin="round">420</text>
<text transform="translate(1107.23,55.30) scale(1.2019,1)" font-family='"Liberation Sans", sans-serif' font-weight="bold" font-size="28.17" fill="#000" stroke="#000" stroke-width="0.90" stroke-linejoin="round">435</text>
<text transform="translate(1510.42,55.46) scale(1.1664,1)" font-family='"Liberation Sans", sans-serif' font-weight="bold" font-size="28.83" fill="#000" stroke="#000" stroke-width="0.90" stroke-linejoin="round">465</text>
<text transform="translate(955.21,635.16) scale(1.1779,1)" font-family='"Liberation Sans", sans-serif' font-weight="bold" font-size="29.40" fill="#000" stroke="#000" stroke-width="0.90" stroke-linejoin="round">420</text>
<text transform="translate(1510.32,657.06) scale(1.2085,1)" font-family='"Liberation Sans", sans-serif' font-weight="bold" font-size="28.69" fill="#000" stroke="#000" stroke-width="0.90" stroke-linejoin="round">450</text>
<rect x="935.2" y="11.1" width="707.9" height="654.4" fill="none" stroke="#9a9a9a" stroke-width="1.6"/>
<path d="M935.9 664.8V674.6M1053.7 664.8V674.6M1171.4 664.8V674.6M1289.2 664.8V674.6M1406.9 664.8V674.6M1524.7 664.8V674.6M1642.4 664.8V674.6M935.9 664.8H925.4M935.9 501.5H925.4M935.9 338.3H925.4M935.9 175.0H925.4M935.9 11.8H925.4" stroke="#8c8c8c" stroke-width="1.5" fill="none"/>
<text transform="translate(908.06,707.28) scale(1.1465,1)" font-family='"Liberation Sans", sans-serif' font-weight="bold" font-size="29.44" fill="#000" stroke="#000" stroke-width="0.90" stroke-linejoin="round">350</text>
<text transform="translate(1026.06,707.35) scale(1.1373,1)" font-family='"Liberation Sans", sans-serif' font-weight="bold" font-size="29.54" fill="#000" stroke="#000" stroke-width="0.90" stroke-linejoin="round">400</text>
<text transform="translate(1143.81,707.35) scale(1.1373,1)" font-family='"Liberation Sans", sans-serif' font-weight="bold" font-size="29.54" fill="#000" stroke="#000" stroke-width="0.90" stroke-linejoin="round">450</text>
<text transform="translate(1261.05,707.35) scale(1.1478,1)" font-family='"Liberation Sans", sans-serif' font-weight="bold" font-size="29.54" fill="#000" stroke="#000" stroke-width="0.90" stroke-linejoin="round">500</text>
<text transform="translate(1378.80,707.35) scale(1.1478,1)" font-family='"Liberation Sans", sans-serif' font-weight="bold" font-size="29.54" fill="#000" stroke="#000" stroke-width="0.90" stroke-linejoin="round">550</text>
<text transform="translate(1496.29,707.35) scale(1.1531,1)" font-family='"Liberation Sans", sans-serif' font-weight="bold" font-size="29.54" fill="#000" stroke="#000" stroke-width="0.90" stroke-linejoin="round">600</text>
<text transform="translate(1614.04,707.35) scale(1.1531,1)" font-family='"Liberation Sans", sans-serif' font-weight="bold" font-size="29.54" fill="#000" stroke="#000" stroke-width="0.90" stroke-linejoin="round">650</text>
<text transform="translate(862.74,675.95) scale(1.1531,1)" font-family='"Liberation Sans", sans-serif' font-weight="bold" font-size="29.54" fill="#000" stroke="#000" stroke-width="0.90" stroke-linejoin="round">650</text>
<text transform="translate(862.57,512.70) scale(1.1567,1)" font-family='"Liberation Sans", sans-serif' font-weight="bold" font-size="29.54" fill="#000" stroke="#000" stroke-width="0.90" stroke-linejoin="round">700</text>
<text transform="translate(862.57,349.45) scale(1.1567,1)" font-family='"Liberation Sans", sans-serif' font-weight="bold" font-size="29.54" fill="#000" stroke="#000" stroke-width="0.90" stroke-linejoin="round">750</text>
<text transform="translate(862.91,186.20) scale(1.1496,1)" font-family='"Liberation Sans", sans-serif' font-weight="bold" font-size="29.54" fill="#000" stroke="#000" stroke-width="0.90" stroke-linejoin="round">800</text>
<text transform="translate(862.91,22.95) scale(1.1496,1)" font-family='"Liberation Sans", sans-serif' font-weight="bold" font-size="29.54" fill="#000" stroke="#000" stroke-width="0.90" stroke-linejoin="round">850</text>
<text transform="translate(1240.47,759.00) scale(1.1221,1)" font-family='"Liberation Sans", sans-serif' font-weight="bold" font-size="29.38" fill="#000" stroke="#000" stroke-width="1.00" stroke-linejoin="round">Speed</text>
<text transform="translate(832.04,432.34) rotate(-90) scale(0.9704,1)" font-family='"Liberation Sans", sans-serif' font-weight="bold" font-size="33.07" fill="#000" stroke="#000" stroke-width="1.00" stroke-linejoin="round">Temperature</text>
</g>
<g id="pd">
<clipPath id="cpd"><rect x="918.9" y="831.6" width="728.1" height="697.0"/></clipPath>
<g clip-path="url(#cpd)">
<rect x="917.9" y="830.6" width="730.1" height="699.0" fill="#EFD8D3"/>
<path d="M916.9 829.6L1649.0 829.6L1649.0 1530.6L1027.9 1530.6L1012.7 1512.6L998.5 1495.0L984.2 1476.7L970.3 1458.4L957.4 1440.8L943.4 1421.0L930.2 1401.7L916.9 1381.6L916.9 829.6Z" fill="#EE9696"/>
<path d="M916.9 829.6L1649.0 829.6L1649.0 1530.6L1313.9 1530.6L1298.2 1519.3L1284.0 1508.5L1269.7 1497.3L1255.4 1485.7L1241.1 1473.7L1226.9 1461.2L1212.6 1448.2L1198.5 1434.9L1177.9 1414.7L1157.5 1393.5L1138.2 1372.4L1118.8 1350.2L1100.0 1327.5L1081.5 1304.1L1063.7 1280.6L1045.4 1255.0L1028.2 1229.9L1010.7 1203.2L994.4 1177.0L978.1 1149.5L961.8 1120.7L946.9 1093.2L931.8 1063.9L916.9 1033.6L916.9 829.6Z" fill="#E5686A"/>
<path d="M1015.8 829.6L1649.0 829.6L1649.0 1446.4L1624.5 1439.0L1600.1 1430.6L1575.6 1421.4L1551.6 1411.5L1528.7 1401.1L1504.2 1389.1L1481.8 1377.2L1459.3 1364.4L1436.9 1350.6L1414.5 1335.9L1392.1 1320.2L1370.6 1304.1L1349.2 1287.1L1328.8 1269.9L1308.4 1251.7L1287.5 1231.8L1267.7 1212.0L1247.6 1190.8L1228.9 1170.0L1210.6 1148.4L1192.2 1125.7L1173.8 1101.8L1156.2 1077.6L1139.2 1053.0L1122.9 1028.3L1106.0 1001.4L1089.7 974.1L1073.9 946.2L1058.5 917.5L1043.5 888.2L1029.3 858.9L1015.8 829.6Z" fill="#C94545"/>
<path d="M1240.3 829.6L1649.0 829.6L1649.0 1187.2L1634.2 1181.1L1618.4 1174.1L1604.1 1167.4L1589.9 1160.3L1575.6 1152.9L1561.3 1145.0L1547.0 1136.8L1533.2 1128.4L1520.5 1120.3L1506.1 1110.8L1492.0 1100.9L1478.7 1091.3L1465.5 1081.2L1453.2 1071.6L1439.2 1060.0L1426.7 1049.3L1412.4 1036.6L1400.2 1025.2L1388.0 1013.4L1376.0 1001.4L1363.5 988.4L1352.0 976.0L1341.1 963.9L1328.8 949.7L1316.6 935.0L1305.6 921.4L1294.2 906.6L1283.3 892.1L1271.9 876.5L1261.5 861.6L1251.3 846.5L1240.3 829.6Z" fill="#961E20"/>
<path d="M1566.2 829.6L1649.0 829.6L1649.0 886.2L1626.6 872.6L1606.2 859.1L1585.8 844.6L1566.2 829.6Z" fill="#640F15"/>
<path d="M1027.9 1530.6L1012.7 1512.6L998.5 1495.0L984.2 1476.7L970.3 1458.4L957.4 1440.8L943.4 1421.0L930.2 1401.7L916.9 1381.6M1313.9 1530.6L1298.2 1519.3L1284.0 1508.5L1269.7 1497.3L1255.4 1485.7L1241.1 1473.7L1226.9 1461.2L1212.6 1448.2L1198.5 1434.9L1184.5 1421.3L1171.8 1408.4L1157.9 1393.9L1145.3 1380.3L1133.0 1366.6L1119.5 1351.0L1106.6 1335.5L1094.3 1320.5L1082.1 1304.9L1069.8 1288.8L1057.6 1272.2L1045.5 1255.3L1022.9 1222.0L1000.5 1186.9L989.8 1169.4L978.3 1149.8L957.4 1112.7L936.7 1073.7L916.9 1033.6M1649.0 1446.4L1624.5 1439.0L1600.1 1430.6L1575.6 1421.4L1551.6 1411.5L1528.7 1401.1L1504.2 1389.1L1481.8 1377.2L1459.3 1364.4L1436.9 1350.6L1414.5 1335.9L1392.1 1320.2L1370.6 1304.1L1349.2 1287.1L1328.8 1269.9L1308.4 1251.7L1287.5 1231.8L1267.7 1212.0L1247.6 1190.8L1228.9 1170.0L1210.6 1148.4L1192.2 1125.7L1173.8 1101.8L1156.2 1077.6L1139.2 1053.0L1122.9 1028.3L1106.0 1001.4L1089.7 974.1L1073.9 946.2L1058.5 917.5L1043.5 888.2L1029.3 858.9L1015.8 829.6M1649.0 1187.2L1634.2 1181.1L1618.4 1174.1L1604.1 1167.4L1589.9 1160.3L1575.6 1152.9L1561.3 1145.0L1547.0 1136.8L1533.2 1128.4L1520.5 1120.3L1506.1 1110.8L1492.0 1100.9L1478.7 1091.3L1465.5 1081.2L1453.2 1071.6L1439.2 1060.0L1426.7 1049.3L1412.4 1036.6L1400.2 1025.2L1388.0 1013.4L1376.0 1001.4L1363.5 988.4L1352.0 976.0L1341.1 963.9L1328.8 949.7L1316.6 935.0L1305.6 921.4L1294.2 906.6L1283.3 892.1L1271.9 876.5L1261.5 861.6L1251.3 846.5L1240.3 829.6M1649.0 886.2L1626.6 872.6L1606.2 859.1L1585.8 844.6L1566.2 829.6" fill="none" stroke="#000" stroke-width="1.9"/>
<rect x="921.9" y="1113.4" width="90.7" height="38.6" fill="#fff"/>
<rect x="1231.5" y="861.9" width="88.7" height="38.7" fill="#fff"/>
<rect x="1552.9" y="834.8" width="86.4" height="36.2" fill="#fff"/>
<rect x="943.4" y="1462.9" width="88.2" height="38.1" fill="#fff"/>
<rect x="1555.3" y="1412.2" width="88.7" height="38.6" fill="#fff"/>

</g>
<text transform="translate(938.41,1143.75) scale(1.2465,1)" font-family='"Liberation Sans", sans-serif' font-weight="bold" font-size="29.54" fill="#000" stroke="#000" stroke-width="0.90" stroke-linejoin="round">440</text>
<text transform="translate(1243.70,894.75) scale(1.1495,1)" font-family='"Liberation Sans", sans-serif' font-weight="bold" font-size="30.25" fill="#000" stroke="#000" stroke-width="0.90" stroke-linejoin="round">480</text>
<text transform="translate(1567.49,865.75) scale(1.1215,1)" font-family='"Liberation Sans", sans-serif' font-weight="bold" font-size="30.25" fill="#000" stroke="#000" stroke-width="0.90" stroke-linejoin="round">500</text>
<text transform="translate(957.51,1490.95) scale(1.1971,1)" font-family='"Liberation Sans", sans-serif' font-weight="bold" font-size="29.54" fill="#000" stroke="#000" stroke-width="0.90" stroke-linejoin="round">420</text>
<text transform="translate(1567.50,1440.75) scale(1.1596,1)" font-family='"Liberation Sans", sans-serif' font-weight="bold" font-size="30.25" fill="#000" stroke="#000" stroke-width="0.90" stroke-linejoin="round">460</text>
<rect x="918.2" y="830.9" width="729.5" height="698.4" fill="none" stroke="#9a9a9a" stroke-width="1.6"/>
<path d="M918.9 1528.6V1538.4M1040.2 1528.6V1538.4M1161.6 1528.6V1538.4M1283.0 1528.6V1538.4M1404.3 1528.6V1538.4M1525.7 1528.6V1538.4M1647.0 1528.6V1538.4M918.9 1451.8H908.4M918.9 1352.5H908.4M918.9 1253.1H908.4M918.9 1153.8H908.4M918.9 1054.5H908.4M918.9 955.1H908.4M918.9 855.8H908.4" stroke="#8c8c8c" stroke-width="1.5" fill="none"/>
<text transform="translate(891.06,1572.88) scale(1.1465,1)" font-family='"Liberation Sans", sans-serif' font-weight="bold" font-size="29.44" fill="#000" stroke="#000" stroke-width="0.90" stroke-linejoin="round">350</text>
<text transform="translate(1012.66,1572.95) scale(1.1373,1)" font-family='"Liberation Sans", sans-serif' font-weight="bold" font-size="29.54" fill="#000" stroke="#000" stroke-width="0.90" stroke-linejoin="round">400</text>
<text transform="translate(1134.01,1572.95) scale(1.1373,1)" font-family='"Liberation Sans", sans-serif' font-weight="bold" font-size="29.54" fill="#000" stroke="#000" stroke-width="0.90" stroke-linejoin="round">450</text>
<text transform="translate(1254.85,1572.95) scale(1.1478,1)" font-family='"Liberation Sans", sans-serif' font-weight="bold" font-size="29.54" fill="#000" stroke="#000" stroke-width="0.90" stroke-linejoin="round">500</text>
<text transform="translate(1376.20,1572.95) scale(1.1478,1)" font-family='"Liberation Sans", sans-serif' font-weight="bold" font-size="29.54" fill="#000" stroke="#000" stroke-width="0.90" stroke-linejoin="round">550</text>
<text transform="translate(1497.29,1572.95) scale(1.1531,1)" font-family='"Liberation Sans", sans-serif' font-weight="bold" font-size="29.54" fill="#000" stroke="#000" stroke-width="0.90" stroke-linejoin="round">600</text>
<text transform="translate(1618.64,1572.95) scale(1.1531,1)" font-family='"Liberation Sans", sans-serif' font-weight="bold" font-size="29.54" fill="#000" stroke="#000" stroke-width="0.90" stroke-linejoin="round">650</text>
<text transform="translate(864.90,1462.95) scale(1.1480,1)" font-family='"Liberation Sans", sans-serif' font-weight="bold" font-size="29.54" fill="#000" stroke="#000" stroke-width="0.90" stroke-linejoin="round">10</text>
<text transform="translate(864.89,1363.92) scale(1.1322,1)" font-family='"Liberation Sans", sans-serif' font-weight="bold" font-size="29.96" fill="#000" stroke="#000" stroke-width="0.90" stroke-linejoin="round">12</text>
<text transform="translate(864.93,1264.58) scale(1.0800,1)" font-family='"Liberation Sans", sans-serif' font-weight="bold" font-size="30.40" fill="#000" stroke="#000" stroke-width="0.90" stroke-linejoin="round">14</text>
<text transform="translate(864.90,1164.95) scale(1.1425,1)" font-family='"Liberation Sans", sans-serif' font-weight="bold" font-size="29.54" fill="#000" stroke="#000" stroke-width="0.90" stroke-linejoin="round">16</text>
<text transform="translate(864.91,1065.62) scale(1.1370,1)" font-family='"Liberation Sans", sans-serif' font-weight="bold" font-size="29.54" fill="#000" stroke="#000" stroke-width="0.90" stroke-linejoin="round">18</text>
<text transform="translate(865.85,966.29) scale(1.1184,1)" font-family='"Liberation Sans", sans-serif' font-weight="bold" font-size="29.54" fill="#000" stroke="#000" stroke-width="0.90" stroke-linejoin="round">20</text>
<text transform="translate(865.84,867.25) scale(1.1030,1)" font-family='"Liberation Sans", sans-serif' font-weight="bold" font-size="29.96" fill="#000" stroke="#000" stroke-width="0.90" stroke-linejoin="round">22</text>
<text transform="translate(1233.77,1625.85) scale(1.1465,1)" font-family='"Liberation Sans", sans-serif' font-weight="bold" font-size="29.17" fill="#000" stroke="#000" stroke-width="1.00" stroke-linejoin="round">Speed</text>
<text transform="translate(834.75,1217.86) rotate(-90) scale(0.9433,1)" font-family='"Liberation Sans", sans-serif' font-weight="bold" font-size="34.97" fill="#000" stroke="#000" stroke-width="1.00" stroke-linejoin="round">Time</text>
<polygon points="1626.9,872.5 1578.7,899.2 1591.6,908.7 1565.3,946.9 1578.7,956.5 1605.4,918.3 1619.2,926.9" fill="#FFFF00"/>
</g>
<g id="pf">
<clipPath id="cpf"><rect x="925.5" y="1681.6" width="713.8" height="690.6"/></clipPath>
<g clip-path="url(#cpf)">
<rect x="924.5" y="1680.6" width="715.8" height="692.6" fill="#961E20"/>
<path d="M923.5 1679.6L1641.3 1679.6L1641.3 2351.5L1625.3 2374.2L980.6 2374.2L965.5 2350.3L951.5 2326.9L937.5 2302.2L923.5 2275.9L923.5 1679.6Z" fill="#C94545"/>
<path d="M923.5 1679.6L1641.3 1679.6L1641.3 2225.2L1627.0 2246.5L1611.3 2268.7L1596.1 2289.1L1581.3 2307.8L1566.2 2325.8L1551.3 2342.5L1535.3 2359.3L1520.1 2374.2L1085.9 2374.2L1072.9 2360.7L1059.1 2345.2L1041.5 2323.8L1032.6 2312.3L1023.5 2300.0L1006.4 2275.5L989.5 2249.4L971.5 2219.4L955.5 2190.7L939.5 2159.9L923.5 2127.1L923.5 1679.6Z" fill="#E5686A"/>
<path d="M923.5 1679.6L1641.3 1679.6L1641.3 2090.3L1628.2 2111.1L1615.3 2130.5L1601.3 2150.5L1587.3 2169.5L1573.3 2187.5L1559.3 2204.5L1545.3 2220.5L1531.3 2235.5L1517.3 2249.6L1503.3 2262.7L1488.6 2275.5L1473.3 2287.7L1459.4 2298.0L1445.4 2307.4L1430.8 2316.2L1415.4 2324.4L1399.9 2331.6L1385.4 2337.4L1369.4 2342.7L1355.4 2346.4L1341.4 2349.2L1325.4 2351.4L1311.4 2352.3L1297.4 2352.4L1281.4 2351.3L1267.4 2349.4L1253.4 2346.6L1239.4 2342.9L1225.4 2338.3L1211.4 2332.7L1197.4 2326.2L1183.4 2318.6L1173.4 2312.7L1165.4 2307.5L1155.5 2300.7L1147.4 2294.7L1137.8 2287.1L1129.4 2280.2L1113.4 2265.7L1105.4 2258.0L1096.1 2248.4L1079.5 2230.2L1062.4 2209.7L1045.5 2187.6L1029.5 2164.8L1013.5 2140.3L997.5 2114.0L981.5 2085.6L966.4 2056.9L951.5 2026.5L937.5 1996.1L923.5 1963.8L923.5 1679.6Z" fill="#EE9696"/>
<path d="M923.5 1679.6L1641.3 1679.6L1641.3 1945.0L1629.3 1965.3L1617.3 1984.6L1605.3 2003.1L1593.3 2020.7L1581.3 2037.5L1569.3 2053.5L1557.3 2068.7L1543.3 2085.4L1531.3 2098.9L1519.3 2111.6L1506.3 2124.6L1493.3 2136.6L1480.4 2147.8L1467.3 2158.3L1455.3 2167.2L1441.4 2176.5L1428.1 2184.6L1415.4 2191.5L1401.7 2198.1L1389.4 2203.3L1376.8 2207.8L1363.4 2211.8L1349.4 2215.0L1337.4 2217.1L1323.4 2218.6L1311.4 2219.1L1297.4 2218.8L1285.4 2217.8L1271.4 2215.8L1259.4 2213.2L1246.6 2209.7L1233.4 2205.3L1219.4 2199.5L1205.4 2192.8L1191.4 2184.9L1177.4 2176.1L1164.9 2167.2L1151.4 2156.7L1137.4 2144.6L1124.5 2132.3L1111.4 2119.0L1099.5 2105.8L1085.9 2089.8L1073.5 2073.9L1059.6 2055.0L1047.5 2037.2L1035.5 2018.5L1023.5 1998.8L1010.3 1975.6L997.5 1951.7L984.2 1925.3L971.5 1898.4L959.5 1871.5L947.1 1842.1L935.5 1812.8L923.5 1780.7L923.5 1679.6Z" fill="#EE9696"/>
<path d="M960.6 1679.6L1641.3 1679.6L1641.3 1786.4L1631.3 1804.7L1621.0 1822.8L1609.5 1842.1L1599.3 1858.6L1589.3 1874.0L1579.3 1888.8L1568.6 1904.0L1557.3 1919.2L1546.5 1933.1L1535.3 1946.6L1525.3 1958.2L1513.3 1971.3L1503.3 1981.6L1491.3 1993.2L1479.3 2004.0L1467.3 2014.0L1457.0 2022.1L1445.4 2030.4L1433.4 2038.3L1421.4 2045.4L1409.4 2051.8L1398.5 2056.9L1387.4 2061.5L1375.4 2065.7L1363.4 2069.2L1351.4 2072.0L1339.4 2074.0L1329.4 2075.1L1317.4 2075.8L1305.4 2075.7L1293.4 2074.8L1283.4 2073.5L1271.4 2071.2L1259.4 2068.1L1248.4 2064.6L1237.4 2060.5L1225.4 2055.1L1215.4 2050.1L1203.6 2043.3L1193.4 2036.9L1181.4 2028.5L1171.4 2020.8L1161.4 2012.5L1151.4 2003.5L1140.6 1993.0L1129.4 1981.5L1119.4 1970.4L1109.4 1958.6L1099.5 1946.1L1089.5 1932.8L1079.5 1918.7L1069.5 1903.9L1059.5 1888.2L1049.5 1871.7L1040.3 1855.7L1031.5 1839.6L1022.7 1822.8L1013.5 1804.4L1003.8 1784.1L995.0 1764.7L985.8 1743.4L977.5 1723.3L969.4 1702.8L960.6 1679.6Z" fill="#E5686A"/>
<path d="M1048.7 1679.6L1049.5 1679.6L1604.8 1679.6L1587.7 1708.6L1571.3 1734.5L1554.6 1758.9L1537.3 1782.1L1528.1 1793.8L1519.3 1804.3L1509.9 1815.0L1501.3 1824.3L1493.3 1832.6L1483.3 1842.4L1475.2 1849.9L1465.3 1858.5L1456.9 1865.3L1447.4 1872.6L1438.6 1878.9L1429.4 1884.9L1420.2 1890.5L1411.4 1895.4L1401.8 1900.2L1393.4 1903.9L1383.4 1907.9L1373.4 1911.3L1365.1 1913.7L1355.4 1916.0L1347.0 1917.6L1337.4 1918.9L1327.4 1919.7L1319.4 1919.9L1309.4 1919.7L1301.4 1919.1L1291.4 1917.8L1283.4 1916.3L1273.4 1914.0L1265.4 1911.7L1255.4 1908.3L1247.4 1905.1L1237.4 1900.5L1229.4 1896.5L1219.4 1890.8L1211.4 1885.8L1201.4 1879.0L1193.4 1873.0L1185.4 1866.6L1177.1 1859.5L1167.4 1850.7L1159.4 1842.8L1151.4 1834.5L1143.4 1825.7L1135.4 1816.4L1127.4 1806.6L1119.4 1796.2L1110.5 1784.1L1095.5 1762.0L1087.5 1749.4L1079.5 1736.3L1071.5 1722.5L1063.5 1708.1L1048.7 1679.6Z" fill="#C94545"/>
<path d="M1183.4 1679.6L1183.4 1679.6L1470.1 1679.6L1461.4 1687.5L1451.4 1696.0L1442.6 1702.8L1433.4 1709.5L1423.4 1716.2L1415.4 1721.0L1406.2 1726.0L1397.4 1730.4L1389.4 1733.9L1379.4 1737.7L1369.4 1740.9L1361.4 1743.0L1351.4 1745.0L1343.4 1746.2L1333.4 1747.1L1325.4 1747.3L1315.4 1747.1L1307.4 1746.4L1299.4 1745.3L1289.4 1743.4L1279.4 1740.7L1271.4 1738.2L1261.4 1734.3L1253.4 1730.8L1244.1 1726.0L1235.4 1721.1L1225.4 1714.7L1217.4 1709.1L1209.4 1702.9L1200.0 1695.1L1191.4 1687.4L1183.4 1679.6Z" fill="#961E20"/>
<path d="M1641.3 2351.5L1625.3 2374.2M980.6 2374.2L965.5 2350.3L951.5 2326.9L937.5 2302.2L923.5 2275.9M1641.3 2225.2L1627.0 2246.5L1611.3 2268.7L1596.1 2289.1L1581.3 2307.8L1566.2 2325.8L1551.3 2342.5L1535.3 2359.3L1520.1 2374.2M1085.9 2374.2L1075.5 2363.4L1064.2 2351.0L1053.5 2338.5L1043.5 2326.3L1032.6 2312.3L1021.5 2297.2L1011.5 2283.0L1001.5 2268.1L991.5 2252.6L981.5 2236.3L971.5 2219.4L961.5 2201.6L951.5 2183.2L942.2 2165.2L933.5 2147.8L923.5 2127.1M1641.3 2090.3L1630.7 2107.2L1619.3 2124.5L1608.7 2140.1L1597.3 2156.0L1586.2 2171.0L1575.3 2185.0L1563.3 2199.7L1551.3 2213.7L1541.0 2225.2L1529.3 2237.6L1517.3 2249.6L1505.3 2260.9L1493.3 2271.5L1481.3 2281.5L1469.3 2290.8L1457.4 2299.4L1445.4 2307.4L1433.4 2314.7L1421.4 2321.3L1409.4 2327.3L1397.4 2332.7L1385.4 2337.4L1373.4 2341.5L1361.4 2345.0L1349.4 2347.7L1337.4 2349.9L1325.4 2351.4L1313.4 2352.2L1301.4 2352.4L1289.4 2352.0L1277.4 2350.9L1265.4 2349.1L1253.4 2346.6L1241.4 2343.5L1229.4 2339.7L1219.4 2336.0L1207.4 2330.9L1195.4 2325.1L1183.4 2318.6L1172.8 2312.3L1161.4 2304.8L1149.4 2296.2L1137.8 2287.1L1127.4 2278.4L1115.6 2267.8L1105.4 2258.0L1094.2 2246.5L1083.5 2234.7L1071.9 2221.3L1061.5 2208.5L1051.5 2195.6L1040.5 2180.7L1029.5 2164.8L1019.5 2149.7L1009.5 2133.9L999.5 2117.4L989.5 2100.0L979.5 2081.9L969.5 2062.9L960.6 2045.3L951.5 2026.5L941.5 2005.0L932.7 1985.3L923.5 1963.8M1641.3 1945.0L1630.1 1964.0L1619.3 1981.5L1608.1 1998.8L1597.3 2015.0L1585.3 2032.0L1574.1 2047.2L1563.3 2061.2L1551.1 2076.2L1539.3 2090.0L1527.3 2103.2L1515.3 2115.7L1503.3 2127.4L1491.3 2138.4L1479.3 2148.7L1467.3 2158.3L1455.4 2167.1L1443.4 2175.3L1431.4 2182.7L1419.4 2189.4L1407.4 2195.5L1395.4 2200.9L1382.4 2205.9L1369.4 2210.1L1357.4 2213.3L1345.4 2215.8L1333.4 2217.6L1321.4 2218.7L1309.4 2219.1L1297.4 2218.8L1285.4 2217.8L1273.4 2216.1L1261.4 2213.7L1249.4 2210.6L1237.4 2206.7L1225.4 2202.1L1213.4 2196.8L1201.4 2190.6L1189.4 2183.7L1178.6 2176.8L1167.4 2169.1L1155.4 2159.9L1145.4 2151.6L1134.6 2142.0L1123.4 2131.3L1111.4 2119.0L1101.5 2108.1L1090.7 2095.6L1079.5 2081.7L1068.0 2066.6L1057.5 2051.9L1047.5 2037.2L1037.5 2021.7L1027.5 2005.5L1017.5 1988.4L1007.5 1970.5L997.5 1951.7L987.5 1932.0L977.7 1911.8L968.8 1892.4L959.5 1871.5L950.3 1849.9L941.5 1828.1L932.7 1805.4L923.5 1780.7M1641.3 1786.4L1631.3 1804.7L1621.0 1822.8L1609.5 1842.1L1599.3 1858.6L1589.3 1874.0L1579.3 1888.8L1568.6 1904.0L1557.3 1919.2L1546.5 1933.1L1535.3 1946.6L1525.3 1958.2L1513.3 1971.3L1503.3 1981.6L1491.3 1993.2L1479.3 2004.0L1467.3 2014.0L1457.0 2022.1L1445.4 2030.4L1433.4 2038.3L1421.4 2045.4L1409.4 2051.8L1398.5 2056.9L1387.4 2061.5L1375.4 2065.7L1363.4 2069.2L1351.4 2072.0L1339.4 2074.0L1329.4 2075.1L1317.4 2075.8L1305.4 2075.7L1293.4 2074.8L1283.4 2073.5L1271.4 2071.2L1259.4 2068.1L1248.4 2064.6L1237.4 2060.5L1225.4 2055.1L1215.4 2050.1L1203.6 2043.3L1193.4 2036.9L1181.4 2028.5L1171.4 2020.8L1161.4 2012.5L1151.4 2003.5L1140.6 1993.0L1129.4 1981.5L1119.4 1970.4L1109.4 1958.6L1099.5 1946.1L1089.5 1932.8L1079.5 1918.7L1069.5 1903.9L1059.5 1888.2L1049.5 1871.7L1040.3 1855.7L1031.5 1839.6L1022.7 1822.8L1013.5 1804.4L1003.8 1784.1L995.0 1764.7L985.8 1743.4L977.5 1723.3L969.4 1702.8L960.6 1679.6M1604.8 1679.6L1587.7 1708.6L1571.3 1734.5L1554.6 1758.9L1537.3 1782.1L1528.1 1793.8L1519.3 1804.3L1509.9 1815.0L1501.3 1824.3L1493.3 1832.6L1483.3 1842.4L1475.2 1849.9L1465.3 1858.5L1456.9 1865.3L1447.4 1872.6L1438.6 1878.9L1429.4 1884.9L1420.2 1890.5L1411.4 1895.4L1401.8 1900.2L1393.4 1903.9L1383.4 1907.9L1373.4 1911.3L1365.1 1913.7L1355.4 1916.0L1347.0 1917.6L1337.4 1918.9L1327.4 1919.7L1319.4 1919.9L1309.4 1919.7L1301.4 1919.1L1291.4 1917.8L1283.4 1916.3L1273.4 1914.0L1265.4 1911.7L1255.4 1908.3L1247.4 1905.1L1237.4 1900.5L1229.4 1896.5L1219.4 1890.8L1211.4 1885.8L1201.4 1879.0L1193.4 1873.0L1185.4 1866.6L1177.1 1859.5L1167.4 1850.7L1159.4 1842.8L1151.4 1834.5L1143.4 1825.7L1135.4 1816.4L1127.4 1806.6L1119.4 1796.2L1110.5 1784.1L1095.5 1762.0L1087.5 1749.4L1079.5 1736.3L1071.5 1722.5L1063.5 1708.1L1048.7 1679.6M1470.1 1679.6L1461.4 1687.5L1451.4 1696.0L1442.6 1702.8L1433.4 1709.5L1423.4 1716.2L1415.4 1721.0L1406.2 1726.0L1397.4 1730.4L1389.4 1733.9L1379.4 1737.7L1369.4 1740.9L1361.4 1743.0L1351.4 1745.0L1343.4 1746.2L1333.4 1747.1L1325.4 1747.3L1315.4 1747.1L1307.4 1746.4L1299.4 1745.3L1289.4 1743.4L1279.4 1740.7L1271.4 1738.2L1261.4 1734.3L1253.4 1730.8L1244.1 1726.0L1235.4 1721.1L1225.4 1714.7L1217.4 1709.1L1209.4 1702.9L1200.0 1695.1L1191.4 1687.4L1183.4 1679.6" fill="none" stroke="#000" stroke-width="1.9"/>
<rect x="931.9" y="1888.4" width="87.3" height="38.1" fill="#fff"/>
<rect x="1289.8" y="1729.6" width="86.9" height="38.3" fill="#fff"/>
<rect x="1546.7" y="1684.3" width="87.3" height="38.7" fill="#fff"/>
<rect x="931.9" y="2207.4" width="87.3" height="38.2" fill="#fff"/>
<rect x="1546.7" y="2277.2" width="87.3" height="38.6" fill="#fff"/>
<rect x="1257.2" y="2058.1" width="86.3" height="38.2" fill="#fff"/>
<rect x="1238.4" y="2334.3" width="89.2" height="38.2" fill="#fff"/>

</g>
<text transform="translate(946.11,1918.75) scale(1.1765,1)" font-family='"Liberation Sans", sans-serif' font-weight="bold" font-size="29.54" fill="#000" stroke="#000" stroke-width="0.90" stroke-linejoin="round">450</text>
<text transform="translate(1304.40,1760.55) scale(1.1459,1)" font-family='"Liberation Sans", sans-serif' font-weight="bold" font-size="29.96" fill="#000" stroke="#000" stroke-width="0.90" stroke-linejoin="round">480</text>
<text transform="translate(1558.50,1717.15) scale(1.1495,1)" font-family='"Liberation Sans", sans-serif' font-weight="bold" font-size="30.25" fill="#000" stroke="#000" stroke-width="0.90" stroke-linejoin="round">470</text>
<text transform="translate(946.09,2237.76) scale(1.1276,1)" font-family='"Liberation Sans", sans-serif' font-weight="bold" font-size="30.85" fill="#000" stroke="#000" stroke-width="0.90" stroke-linejoin="round">430</text>
<text transform="translate(1558.49,2307.97) scale(1.1327,1)" font-family='"Liberation Sans", sans-serif' font-weight="bold" font-size="30.70" fill="#000" stroke="#000" stroke-width="0.90" stroke-linejoin="round">430</text>
<text transform="translate(1268.90,2088.55) scale(1.1314,1)" font-family='"Liberation Sans", sans-serif' font-weight="bold" font-size="30.25" fill="#000" stroke="#000" stroke-width="0.90" stroke-linejoin="round">460</text>
<text transform="translate(1252.48,2362.84) scale(1.1631,1)" font-family='"Liberation Sans", sans-serif' font-weight="bold" font-size="30.95" fill="#000" stroke="#000" stroke-width="0.90" stroke-linejoin="round">440</text>
<rect x="924.8" y="1680.9" width="715.2" height="692.0" fill="none" stroke="#9a9a9a" stroke-width="1.6"/>
<path d="M925.5 2372.2V2382.0M1104.0 2372.2V2382.0M1282.4 2372.2V2382.0M1460.8 2372.2V2382.0M1639.3 2372.2V2382.0M925.5 2295.9H915.0M925.5 2197.6H915.0M925.5 2099.2H915.0M925.5 2000.8H915.0M925.5 1902.5H915.0M925.5 1804.2H915.0M925.5 1705.8H915.0" stroke="#8c8c8c" stroke-width="1.5" fill="none"/>
<text transform="translate(897.14,2415.65) scale(1.1531,1)" font-family='"Liberation Sans", sans-serif' font-weight="bold" font-size="29.54" fill="#000" stroke="#000" stroke-width="0.90" stroke-linejoin="round">650</text>
<text transform="translate(1075.42,2415.65) scale(1.1567,1)" font-family='"Liberation Sans", sans-serif' font-weight="bold" font-size="29.54" fill="#000" stroke="#000" stroke-width="0.90" stroke-linejoin="round">700</text>
<text transform="translate(1253.87,2415.65) scale(1.1567,1)" font-family='"Liberation Sans", sans-serif' font-weight="bold" font-size="29.54" fill="#000" stroke="#000" stroke-width="0.90" stroke-linejoin="round">750</text>
<text transform="translate(1432.66,2415.65) scale(1.1496,1)" font-family='"Liberation Sans", sans-serif' font-weight="bold" font-size="29.54" fill="#000" stroke="#000" stroke-width="0.90" stroke-linejoin="round">800</text>
<text transform="translate(1611.11,2415.65) scale(1.1496,1)" font-family='"Liberation Sans", sans-serif' font-weight="bold" font-size="29.54" fill="#000" stroke="#000" stroke-width="0.90" stroke-linejoin="round">850</text>
<text transform="translate(871.50,2307.05) scale(1.1480,1)" font-family='"Liberation Sans", sans-serif' font-weight="bold" font-size="29.54" fill="#000" stroke="#000" stroke-width="0.90" stroke-linejoin="round">10</text>
<text transform="translate(871.49,2209.00) scale(1.1322,1)" font-family='"Liberation Sans", sans-serif' font-weight="bold" font-size="29.96" fill="#000" stroke="#000" stroke-width="0.90" stroke-linejoin="round">12</text>
<text transform="translate(871.53,2110.65) scale(1.0800,1)" font-family='"Liberation Sans", sans-serif' font-weight="bold" font-size="30.40" fill="#000" stroke="#000" stroke-width="0.90" stroke-linejoin="round">14</text>
<text transform="translate(871.50,2012.00) scale(1.1425,1)" font-family='"Liberation Sans", sans-serif' font-weight="bold" font-size="29.54" fill="#000" stroke="#000" stroke-width="0.90" stroke-linejoin="round">16</text>
<text transform="translate(871.51,1913.65) scale(1.1370,1)" font-family='"Liberation Sans", sans-serif' font-weight="bold" font-size="29.54" fill="#000" stroke="#000" stroke-width="0.90" stroke-linejoin="round">18</text>
<text transform="translate(872.45,1815.30) scale(1.1184,1)" font-family='"Liberation Sans", sans-serif' font-weight="bold" font-size="29.54" fill="#000" stroke="#000" stroke-width="0.90" stroke-linejoin="round">20</text>
<text transform="translate(872.44,1717.25) scale(1.1030,1)" font-family='"Liberation Sans", sans-serif' font-weight="bold" font-size="29.96" fill="#000" stroke="#000" stroke-width="0.90" stroke-linejoin="round">22</text>
<text transform="translate(1177.73,2468.79) scale(1.1514,1)" font-family='"Liberation Sans", sans-serif' font-weight="bold" font-size="30.39" fill="#000" stroke="#000" stroke-width="1.00" stroke-linejoin="round">Temperature</text>
<text transform="translate(842.34,2064.47) rotate(-90) scale(0.9290,1)" font-family='"Liberation Sans", sans-serif' font-weight="bold" font-size="35.51" fill="#000" stroke="#000" stroke-width="1.00" stroke-linejoin="round">Time</text>
</g>
<text transform="translate(1293.61,1718.70) scale(1.2232,1)" font-family='"Liberation Serif", serif' font-weight="bold" font-size="64.24" fill="#fff">A</text>
<text transform="translate(5.11,767.62) scale(1.0634,1)" font-family='"Liberation Serif", serif' font-weight="bold" font-size="39.45" fill="#000">(a)</text>
<text transform="translate(809.60,767.62) scale(1.0720,1)" font-family='"Liberation Serif", serif' font-weight="bold" font-size="39.45" fill="#000">(b)</text>
<text transform="translate(3.73,1632.02) scale(1.1082,1)" font-family='"Liberation Serif", serif' font-weight="bold" font-size="39.45" fill="#000">(c)</text>
<text transform="translate(809.87,1632.02) scale(1.0877,1)" font-family='"Liberation Serif", serif' font-weight="bold" font-size="39.45" fill="#000">(d)</text>
<text transform="translate(3.73,2464.92) scale(1.1082,1)" font-family='"Liberation Serif", serif' font-weight="bold" font-size="39.45" fill="#000">(e)</text>
<text transform="translate(809.85,2465.01) scale(1.1124,1)" font-family='"Liberation Serif", serif' font-weight="bold" font-size="39.02" fill="#000">(f)</text>
</svg></body></html>
